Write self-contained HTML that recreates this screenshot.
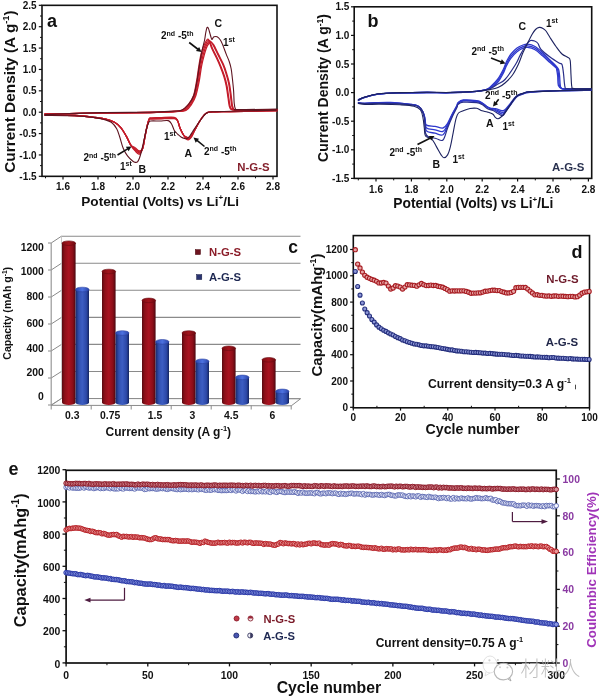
<!DOCTYPE html>
<html><head><meta charset="utf-8"><style>
html,body{margin:0;padding:0;background:#fff;}
svg{display:block;}
</style></head><body>
<svg width="600" height="698" viewBox="0 0 600 698" font-family='"Liberation Sans", Arial, sans-serif'>
<rect width="600" height="698" fill="#fff"/>
<rect x="42" y="5.33" width="235" height="171" fill="none" stroke="#111" stroke-width="1.6"/>
<line x1="38.8" y1="5.33" x2="42" y2="5.33" stroke="#111" stroke-width="1.2"/>
<text x="36.6" y="8.93" font-size="10" text-anchor="end" fill="#111" font-weight="bold">2.5</text>
<line x1="38.8" y1="26.7" x2="42" y2="26.7" stroke="#111" stroke-width="1.2"/>
<text x="36.6" y="30.3" font-size="10" text-anchor="end" fill="#111" font-weight="bold">2.0</text>
<line x1="38.8" y1="48.08" x2="42" y2="48.08" stroke="#111" stroke-width="1.2"/>
<text x="36.6" y="51.68" font-size="10" text-anchor="end" fill="#111" font-weight="bold">1.5</text>
<line x1="38.8" y1="69.45" x2="42" y2="69.45" stroke="#111" stroke-width="1.2"/>
<text x="36.6" y="73.05" font-size="10" text-anchor="end" fill="#111" font-weight="bold">1.0</text>
<line x1="38.8" y1="90.83" x2="42" y2="90.83" stroke="#111" stroke-width="1.2"/>
<text x="36.6" y="94.42" font-size="10" text-anchor="end" fill="#111" font-weight="bold">0.5</text>
<line x1="38.8" y1="112.2" x2="42" y2="112.2" stroke="#111" stroke-width="1.2"/>
<text x="36.6" y="115.8" font-size="10" text-anchor="end" fill="#111" font-weight="bold">0.0</text>
<line x1="38.8" y1="133.57" x2="42" y2="133.57" stroke="#111" stroke-width="1.2"/>
<text x="36.6" y="137.17" font-size="10" text-anchor="end" fill="#111" font-weight="bold">-0.5</text>
<line x1="38.8" y1="154.95" x2="42" y2="154.95" stroke="#111" stroke-width="1.2"/>
<text x="36.6" y="158.55" font-size="10" text-anchor="end" fill="#111" font-weight="bold">-1.0</text>
<line x1="38.8" y1="176.32" x2="42" y2="176.32" stroke="#111" stroke-width="1.2"/>
<text x="36.6" y="179.92" font-size="10" text-anchor="end" fill="#111" font-weight="bold">-1.5</text>
<line x1="40" y1="16.01" x2="42" y2="16.01" stroke="#111" stroke-width="1"/>
<line x1="40" y1="37.39" x2="42" y2="37.39" stroke="#111" stroke-width="1"/>
<line x1="40" y1="58.76" x2="42" y2="58.76" stroke="#111" stroke-width="1"/>
<line x1="40" y1="80.14" x2="42" y2="80.14" stroke="#111" stroke-width="1"/>
<line x1="40" y1="101.51" x2="42" y2="101.51" stroke="#111" stroke-width="1"/>
<line x1="40" y1="122.89" x2="42" y2="122.89" stroke="#111" stroke-width="1"/>
<line x1="40" y1="144.26" x2="42" y2="144.26" stroke="#111" stroke-width="1"/>
<line x1="40" y1="165.64" x2="42" y2="165.64" stroke="#111" stroke-width="1"/>
<line x1="63" y1="176.32" x2="63" y2="179.52" stroke="#111" stroke-width="1.2"/>
<text x="63" y="190.3" font-size="10" text-anchor="middle" fill="#111" font-weight="bold">1.6</text>
<line x1="98" y1="176.32" x2="98" y2="179.52" stroke="#111" stroke-width="1.2"/>
<text x="98" y="190.3" font-size="10" text-anchor="middle" fill="#111" font-weight="bold">1.8</text>
<line x1="133" y1="176.32" x2="133" y2="179.52" stroke="#111" stroke-width="1.2"/>
<text x="133" y="190.3" font-size="10" text-anchor="middle" fill="#111" font-weight="bold">2.0</text>
<line x1="168" y1="176.32" x2="168" y2="179.52" stroke="#111" stroke-width="1.2"/>
<text x="168" y="190.3" font-size="10" text-anchor="middle" fill="#111" font-weight="bold">2.2</text>
<line x1="203" y1="176.32" x2="203" y2="179.52" stroke="#111" stroke-width="1.2"/>
<text x="203" y="190.3" font-size="10" text-anchor="middle" fill="#111" font-weight="bold">2.4</text>
<line x1="238" y1="176.32" x2="238" y2="179.52" stroke="#111" stroke-width="1.2"/>
<text x="238" y="190.3" font-size="10" text-anchor="middle" fill="#111" font-weight="bold">2.6</text>
<line x1="273" y1="176.32" x2="273" y2="179.52" stroke="#111" stroke-width="1.2"/>
<text x="273" y="190.3" font-size="10" text-anchor="middle" fill="#111" font-weight="bold">2.8</text>
<line x1="45.5" y1="176.32" x2="45.5" y2="178.32" stroke="#111" stroke-width="1"/>
<line x1="80.5" y1="176.32" x2="80.5" y2="178.32" stroke="#111" stroke-width="1"/>
<line x1="115.5" y1="176.32" x2="115.5" y2="178.32" stroke="#111" stroke-width="1"/>
<line x1="150.5" y1="176.32" x2="150.5" y2="178.32" stroke="#111" stroke-width="1"/>
<line x1="185.5" y1="176.32" x2="185.5" y2="178.32" stroke="#111" stroke-width="1"/>
<line x1="220.5" y1="176.32" x2="220.5" y2="178.32" stroke="#111" stroke-width="1"/>
<line x1="255.5" y1="176.32" x2="255.5" y2="178.32" stroke="#111" stroke-width="1"/>
<text x="57" y="27" font-size="18" text-anchor="end" fill="#111" font-weight="bold">a</text>
<text x="15.2" y="91.6" font-size="15.4" text-anchor="middle" fill="#111" font-weight="bold" transform="rotate(-90 15.2 91.6)">Current Density (A g<tspan font-size="9.2" dy="-6.2">-1</tspan><tspan dy="6.2">)</tspan></text>
<text x="81.3" y="205.6" font-size="13.6" fill="#111" font-weight="bold">Potential (Volts) vs Li<tspan font-size="8" dy="-6">+</tspan><tspan dy="6">/Li</tspan></text>
<path d="M45,114 C50.83,113.9 67.5,113.58 80,113.4 C92.5,113.22 108.33,113.05 120,112.9 C131.67,112.75 142.5,112.65 150,112.5 C157.5,112.35 161.33,112.17 165,112 C168.67,111.83 169.25,111.77 172,111.5 C174.75,111.23 178.75,111.6 181.5,110.4 C184.25,109.2 186.5,106.73 188.5,104.3 C190.5,101.87 192.15,99.65 193.5,95.8 C194.85,91.95 195.72,86.08 196.6,81.2 C197.48,76.32 198.07,70.97 198.8,66.5 C199.53,62.03 200.17,57.85 201,54.4 C201.83,50.95 202.63,48.35 203.8,45.8 C204.97,43.25 206.68,38.68 208,39.1 C209.32,39.52 210.28,45.15 211.7,48.3 C213.12,51.45 215.08,54.97 216.5,58 C217.92,61.03 218.98,63.45 220.2,66.5 C221.42,69.55 222.78,73.05 223.8,76.3 C224.82,79.55 225.58,82.35 226.3,86 C227.02,89.65 227.6,94.87 228.1,98.2 C228.6,101.53 228.82,104.15 229.3,106 C229.78,107.85 230.05,108.62 231,109.3 C231.95,109.98 231.83,109.97 235,110.1 C238.17,110.23 243,110.18 250,110.1 C257,110.02 272.5,109.68 277,109.6" fill="none" stroke="#c41c2a" stroke-width="1.3" stroke-linejoin="round" stroke-linecap="round"/>
<path d="M277,110.6 C273.33,110.68 262.83,110.93 255,111.1 C247.17,111.27 236.67,111.48 230,111.6 C223.33,111.72 218.67,111.68 215,111.8 C211.33,111.92 209.75,111.83 208,112.3 C206.25,112.77 205.87,113.15 204.5,114.6 C203.13,116.05 201.35,118.57 199.8,121 C198.25,123.43 196.55,126.58 195.2,129.2 C193.85,131.82 192.77,134.95 191.7,136.7 C190.63,138.45 189.75,139.37 188.8,139.7 C187.85,140.03 186.88,139.48 186,138.7 C185.12,137.92 184.5,136.78 183.5,135 C182.5,133.22 180.97,130.33 180,128 C179.03,125.67 178.67,122.78 177.7,121 C176.73,119.22 177.15,117.87 174.2,117.3 C171.25,116.73 163.82,117.52 160,117.6 C156.18,117.68 153.1,117.55 151.3,117.8 C149.5,118.05 149.92,117.62 149.2,119.1 C148.48,120.58 147.73,123.63 147,126.7 C146.27,129.77 145.52,133.9 144.8,137.5 C144.08,141.1 143.6,145.52 142.7,148.3 C141.8,151.08 140.67,153.77 139.4,154.2 C138.13,154.63 136.53,152.42 135.1,150.9 C133.67,149.38 132.25,147.52 130.8,145.1 C129.35,142.68 128.03,139.28 126.4,136.4 C124.77,133.52 122.98,130.15 121,127.8 C119.02,125.45 117.03,123.75 114.5,122.3 C111.97,120.85 109.05,119.9 105.8,119.1 C102.55,118.3 100.13,118.1 95,117.5 C89.87,116.9 81.67,115.85 75,115.5 C68.33,115.15 60,115.48 55,115.4 C50,115.32 46.67,115.07 45,115" fill="none" stroke="#c41c2a" stroke-width="1.3" stroke-linejoin="round" stroke-linecap="round"/>
<path d="M45,114 C50.83,113.9 67.5,113.58 80,113.4 C92.5,113.22 108.33,113.05 120,112.9 C131.67,112.75 142.5,112.65 150,112.5 C157.5,112.35 161.11,112.17 165,112 C168.89,111.83 170.33,111.77 173.33,111.5 C176.33,111.23 180.31,111.6 183,110.4 C185.69,109.2 187.62,106.73 189.5,104.3 C191.38,101.87 192.94,99.65 194.27,95.8 C195.59,91.95 196.56,86.08 197.47,81.2 C198.37,76.32 198.92,70.97 199.7,66.5 C200.48,62.03 201.25,57.85 202.13,54.4 C203.02,50.95 203.89,48.17 205,45.8 C206.11,43.43 207.57,39.78 208.8,40.2 C210.03,40.62 211,45.33 212.4,48.3 C213.8,51.27 215.78,54.97 217.2,58 C218.62,61.03 219.68,63.45 220.9,66.5 C222.12,69.55 223.48,73.05 224.5,76.3 C225.52,79.55 226.28,82.35 227,86 C227.72,89.65 228.3,94.87 228.8,98.2 C229.3,101.53 229.52,104.15 230,106 C230.48,107.85 230.75,108.62 231.7,109.3 C232.65,109.98 232.65,109.97 235.7,110.1 C238.75,110.23 243.12,110.18 250,110.1 C256.88,110.02 272.5,109.68 277,109.6" fill="none" stroke="#c41c2a" stroke-width="1.3" stroke-linejoin="round" stroke-linecap="round"/>
<path d="M277,110.6 C273.33,110.68 262.83,110.93 255,111.1 C247.17,111.27 236.67,111.48 230,111.6 C223.33,111.72 218.67,111.68 215,111.8 C211.33,111.92 209.75,111.83 208,112.3 C206.25,112.77 205.87,113.15 204.5,114.6 C203.13,116.05 201.35,118.57 199.8,121 C198.25,123.43 196.55,126.7 195.2,129.2 C193.85,131.7 192.77,134.37 191.7,136 C190.63,137.63 189.75,138.67 188.8,139 C187.85,139.33 186.88,138.67 186,138 C185.12,137.33 184.5,136.67 183.5,135 C182.5,133.33 180.97,130.33 180,128 C179.03,125.67 178.67,122.7 177.7,121 C176.73,119.3 177.15,118.28 174.2,117.8 C171.25,117.32 163.82,118.02 160,118.1 C156.18,118.18 153.1,118.13 151.3,118.3 C149.5,118.47 149.92,117.7 149.2,119.1 C148.48,120.5 147.73,123.63 147,126.7 C146.27,129.77 145.52,133.9 144.8,137.5 C144.08,141.1 143.6,145.72 142.7,148.3 C141.8,150.88 140.67,152.77 139.4,153 C138.13,153.23 136.53,151.02 135.1,149.7 C133.67,148.38 132.25,147.32 130.8,145.1 C129.35,142.88 128.03,139.28 126.4,136.4 C124.77,133.52 122.98,130.15 121,127.8 C119.02,125.45 117.03,123.75 114.5,122.3 C111.97,120.85 109.05,119.9 105.8,119.1 C102.55,118.3 100.13,118.1 95,117.5 C89.87,116.9 81.67,115.85 75,115.5 C68.33,115.15 60,115.48 55,115.4 C50,115.32 46.67,115.07 45,115" fill="none" stroke="#c41c2a" stroke-width="1.3" stroke-linejoin="round" stroke-linecap="round"/>
<path d="M45,114 C50.83,113.9 67.5,113.58 80,113.4 C92.5,113.22 108.33,113.05 120,112.9 C131.67,112.75 142.5,112.65 150,112.5 C157.5,112.35 160.89,112.17 165,112 C169.11,111.83 171.42,111.77 174.67,111.5 C177.92,111.23 181.86,111.6 184.5,110.4 C187.14,109.2 188.74,106.73 190.5,104.3 C192.26,101.87 193.73,99.65 195.03,95.8 C196.34,91.95 197.41,86.08 198.33,81.2 C199.26,76.32 199.78,70.97 200.6,66.5 C201.42,62.03 202.33,57.85 203.27,54.4 C204.2,50.95 205.11,48.03 206.2,45.8 C207.29,43.57 208.68,41.2 209.8,41 C210.92,40.8 211.57,42.37 212.9,44.6 C214.23,46.83 216.18,51.15 217.8,54.4 C219.42,57.65 221.28,61.07 222.6,64.1 C223.92,67.13 224.68,69.35 225.7,72.6 C226.72,75.85 227.9,79.73 228.7,83.6 C229.5,87.47 229.98,92.07 230.5,95.8 C231.02,99.53 231.3,103.72 231.8,106 C232.3,108.28 232.63,108.82 233.5,109.5 C234.37,110.18 234.25,110 237,110.1 C239.75,110.2 243.33,110.18 250,110.1 C256.67,110.02 272.5,109.68 277,109.6" fill="none" stroke="#c41c2a" stroke-width="1.3" stroke-linejoin="round" stroke-linecap="round"/>
<path d="M277,110.6 C273.33,110.68 262.83,110.93 255,111.1 C247.17,111.27 236.67,111.48 230,111.6 C223.33,111.72 218.67,111.68 215,111.8 C211.33,111.92 209.75,111.83 208,112.3 C206.25,112.77 205.87,113.15 204.5,114.6 C203.13,116.05 201.35,118.57 199.8,121 C198.25,123.43 196.55,126.82 195.2,129.2 C193.85,131.58 192.77,133.78 191.7,135.3 C190.63,136.82 189.75,137.97 188.8,138.3 C187.85,138.63 186.88,137.85 186,137.3 C185.12,136.75 184.5,136.55 183.5,135 C182.5,133.45 180.97,130.33 180,128 C179.03,125.67 178.67,122.63 177.7,121 C176.73,119.37 177.15,118.62 174.2,118.2 C171.25,117.78 163.82,118.42 160,118.5 C156.18,118.58 153.1,118.6 151.3,118.7 C149.5,118.8 149.92,117.77 149.2,119.1 C148.48,120.43 147.73,123.63 147,126.7 C146.27,129.77 145.52,133.9 144.8,137.5 C144.08,141.1 143.6,145.88 142.7,148.3 C141.8,150.72 140.67,151.93 139.4,152 C138.13,152.07 136.53,149.85 135.1,148.7 C133.67,147.55 132.25,147.15 130.8,145.1 C129.35,143.05 128.03,139.28 126.4,136.4 C124.77,133.52 122.98,130.15 121,127.8 C119.02,125.45 117.03,123.75 114.5,122.3 C111.97,120.85 109.05,119.9 105.8,119.1 C102.55,118.3 100.13,118.1 95,117.5 C89.87,116.9 81.67,115.85 75,115.5 C68.33,115.15 60,115.48 55,115.4 C50,115.32 46.67,115.07 45,115" fill="none" stroke="#c41c2a" stroke-width="1.3" stroke-linejoin="round" stroke-linecap="round"/>
<path d="M45,114 C50.83,113.9 67.5,113.58 80,113.4 C92.5,113.22 108.33,113.05 120,112.9 C131.67,112.75 142.5,112.65 150,112.5 C157.5,112.35 160.67,112.17 165,112 C169.33,111.83 172.5,111.77 176,111.5 C179.5,111.23 183.42,111.6 186,110.4 C188.58,109.2 189.87,106.73 191.5,104.3 C193.13,101.87 194.52,99.65 195.8,95.8 C197.08,91.95 198.25,86.08 199.2,81.2 C200.15,76.32 200.63,70.97 201.5,66.5 C202.37,62.03 203.42,57.85 204.4,54.4 C205.38,50.95 206.38,47.8 207.4,45.8 C208.42,43.8 209.47,42.6 210.5,42.4 C211.53,42.2 212.27,42.6 213.6,44.6 C214.93,46.6 216.88,51.15 218.5,54.4 C220.12,57.65 221.98,61.07 223.3,64.1 C224.62,67.13 225.38,69.35 226.4,72.6 C227.42,75.85 228.6,79.73 229.4,83.6 C230.2,87.47 230.68,92.07 231.2,95.8 C231.72,99.53 232,103.72 232.5,106 C233,108.28 233.33,108.82 234.2,109.5 C235.07,110.18 235.07,110 237.7,110.1 C240.33,110.2 243.45,110.18 250,110.1 C256.55,110.02 272.5,109.68 277,109.6" fill="none" stroke="#c41c2a" stroke-width="1.3" stroke-linejoin="round" stroke-linecap="round"/>
<path d="M277,110.6 C273.33,110.68 262.83,110.93 255,111.1 C247.17,111.27 236.67,111.48 230,111.6 C223.33,111.72 218.67,111.68 215,111.8 C211.33,111.92 209.75,111.83 208,112.3 C206.25,112.77 205.87,113.15 204.5,114.6 C203.13,116.05 201.35,118.57 199.8,121 C198.25,123.43 196.55,126.93 195.2,129.2 C193.85,131.47 192.77,133.2 191.7,134.6 C190.63,136 189.75,137.27 188.8,137.6 C187.85,137.93 186.88,137.03 186,136.6 C185.12,136.17 184.5,136.43 183.5,135 C182.5,133.57 180.97,130.33 180,128 C179.03,125.67 178.67,122.57 177.7,121 C176.73,119.43 177.15,118.95 174.2,118.6 C171.25,118.25 163.82,118.82 160,118.9 C156.18,118.98 153.1,119.07 151.3,119.1 C149.5,119.13 149.92,117.83 149.2,119.1 C148.48,120.37 147.73,123.63 147,126.7 C146.27,129.77 145.52,133.9 144.8,137.5 C144.08,141.1 143.6,146.05 142.7,148.3 C141.8,150.55 140.67,151.1 139.4,151 C138.13,150.9 136.53,148.68 135.1,147.7 C133.67,146.72 132.25,146.98 130.8,145.1 C129.35,143.22 128.03,139.28 126.4,136.4 C124.77,133.52 122.98,130.15 121,127.8 C119.02,125.45 117.03,123.75 114.5,122.3 C111.97,120.85 109.05,119.9 105.8,119.1 C102.55,118.3 100.13,118.1 95,117.5 C89.87,116.9 81.67,115.85 75,115.5 C68.33,115.15 60,115.48 55,115.4 C50,115.32 46.67,115.07 45,115" fill="none" stroke="#c41c2a" stroke-width="1.3" stroke-linejoin="round" stroke-linecap="round"/>
<path d="M45,114.6 C54.17,114.27 82.5,113 100,112.6 C117.5,112.2 138,112.43 150,112.2 C162,111.97 166.75,111.53 172,111.2 C177.25,110.87 178.7,111.4 181.5,110.2 C184.3,109 186.75,106.45 188.8,104 C190.85,101.55 192.43,99.33 193.8,95.5 C195.17,91.67 196.1,85.83 197,81 C197.9,76.17 198.48,70.93 199.2,66.5 C199.92,62.07 200.67,57.73 201.3,54.4 C201.93,51.07 202.45,48.9 203,46.5 C203.55,44.1 204.13,42.33 204.6,40 C205.07,37.67 205.4,34.57 205.8,32.5 C206.2,30.43 206.6,28.35 207,27.6 C207.4,26.85 207.8,27.35 208.2,28 C208.6,28.65 208.97,30.08 209.4,31.5 C209.83,32.92 210.38,35.17 210.8,36.5 C211.22,37.83 211.53,39.28 211.9,39.5 C212.27,39.72 212.63,38.27 213,37.8 C213.37,37.33 213.42,36.88 214.1,36.7 C214.78,36.52 216.08,36.2 217.1,36.7 C218.12,37.2 219.28,38.38 220.2,39.7 C221.12,41.02 221.58,42.15 222.6,44.6 C223.62,47.05 225.18,51.55 226.3,54.4 C227.42,57.25 228.48,59.27 229.3,61.7 C230.12,64.13 230.68,66.17 231.2,69 C231.72,71.83 232,75.05 232.4,78.7 C232.8,82.35 233.3,86.83 233.6,90.9 C233.9,94.97 233.9,100.12 234.2,103.1 C234.5,106.08 234.77,107.72 235.4,108.8 C236.03,109.88 231.07,109.55 238,109.6 C244.93,109.65 270.5,109.18 277,109.1" fill="none" stroke="#5e1420" stroke-width="1.1" stroke-linejoin="round" stroke-linecap="round"/>
<path d="M277,110.2 C270.83,110.33 250.83,110.73 240,111 C229.17,111.27 217.67,111.38 212,111.8 C206.33,112.22 207.83,112.22 206,113.5 C204.17,114.78 202.5,117.58 201,119.5 C199.5,121.42 198.33,123.08 197,125 C195.67,126.92 194.2,129.17 193,131 C191.8,132.83 190.8,134.75 189.8,136 C188.8,137.25 187.88,138.08 187,138.5 C186.12,138.92 185.5,138.75 184.5,138.5 C183.5,138.25 182.08,137.67 181,137 C179.92,136.33 178.75,135.17 178,134.5 C177.25,133.83 177.13,133.7 176.5,133 C175.87,132.3 174.98,131.72 174.2,130.3 C173.42,128.88 172.78,126.12 171.8,124.5 C170.82,122.88 170.27,121.18 168.3,120.6 C166.33,120.02 162.92,120.93 160,121 C157.08,121.07 152.72,120.67 150.8,121 C148.88,121.33 149.22,121.67 148.5,123 C147.78,124.33 147.25,126.17 146.5,129 C145.75,131.83 144.83,136.33 144,140 C143.17,143.67 142.25,148 141.5,151 C140.75,154 140.17,156.2 139.5,158 C138.83,159.8 138.17,161.07 137.5,161.8 C136.83,162.53 136.27,162.48 135.5,162.4 C134.73,162.32 134.23,162.38 132.9,161.3 C131.57,160.22 129.12,158.07 127.5,155.9 C125.88,153.73 124.47,151.37 123.2,148.3 C121.93,145.23 120.98,140.75 119.9,137.5 C118.82,134.25 118.13,131.33 116.7,128.8 C115.27,126.27 113.42,123.85 111.3,122.3 C109.18,120.75 106.72,120.28 104,119.5 C101.28,118.72 99.83,118.22 95,117.6 C90.17,116.98 83.33,116.17 75,115.8 C66.67,115.43 50,115.47 45,115.4" fill="none" stroke="#5e1420" stroke-width="1.1" stroke-linejoin="round" stroke-linecap="round"/>
<text x="214.5" y="26.5" font-size="10.5" text-anchor="start" fill="#111" font-weight="bold">C</text>
<text x="161" y="39.3" font-size="10" fill="#111" font-weight="bold">2<tspan font-size="7" dy="-3.8">nd</tspan><tspan dy="3.8"> -5</tspan><tspan font-size="7" dy="-3.8">th</tspan></text>
<line x1="189.2" y1="42.5" x2="197.94" y2="49.25" stroke="#111" stroke-width="1.6"/>
<polygon points="201.5,52 195.95,51 199.13,46.89" fill="#111"/>
<text x="223" y="46" font-size="10" fill="#111" font-weight="bold">1<tspan font-size="7" dy="-3.8">st</tspan></text>
<text x="83.5" y="161.3" font-size="10" fill="#111" font-weight="bold">2<tspan font-size="7" dy="-3.8">nd</tspan><tspan dy="3.8"> -5</tspan><tspan font-size="7" dy="-3.8">th</tspan></text>
<line x1="117.5" y1="155" x2="127.65" y2="148.84" stroke="#111" stroke-width="1.6"/>
<polygon points="131.5,146.5 128.58,151.32 125.88,146.87" fill="#111"/>
<text x="120" y="170.2" font-size="10" fill="#111" font-weight="bold">1<tspan font-size="7" dy="-3.8">st</tspan></text>
<text x="138.5" y="172.5" font-size="10.5" text-anchor="start" fill="#111" font-weight="bold">B</text>
<text x="164" y="139.6" font-size="10" fill="#111" font-weight="bold">1<tspan font-size="7" dy="-3.8">st</tspan></text>
<text x="184.5" y="157" font-size="10.5" text-anchor="start" fill="#111" font-weight="bold">A</text>
<text x="204" y="154.8" font-size="10" fill="#111" font-weight="bold">2<tspan font-size="7" dy="-3.8">nd</tspan><tspan dy="3.8"> -5</tspan><tspan font-size="7" dy="-3.8">th</tspan></text>
<line x1="204.5" y1="146.5" x2="196.98" y2="140.35" stroke="#111" stroke-width="1.6"/>
<polygon points="193.5,137.5 199.02,138.65 195.72,142.68" fill="#111"/>
<text x="269.6" y="171.3" font-size="11.4" text-anchor="end" fill="#84202c" font-weight="bold">N-G-S</text>
<rect x="354.2" y="6.8" width="237.5" height="171.6" fill="none" stroke="#111" stroke-width="1.6"/>
<line x1="351" y1="6.8" x2="354.2" y2="6.8" stroke="#111" stroke-width="1.2"/>
<text x="349.3" y="10.4" font-size="10" text-anchor="end" fill="#111" font-weight="bold">1.5</text>
<line x1="351" y1="35.4" x2="354.2" y2="35.4" stroke="#111" stroke-width="1.2"/>
<text x="349.3" y="39" font-size="10" text-anchor="end" fill="#111" font-weight="bold">1.0</text>
<line x1="351" y1="64" x2="354.2" y2="64" stroke="#111" stroke-width="1.2"/>
<text x="349.3" y="67.6" font-size="10" text-anchor="end" fill="#111" font-weight="bold">0.5</text>
<line x1="351" y1="92.6" x2="354.2" y2="92.6" stroke="#111" stroke-width="1.2"/>
<text x="349.3" y="96.2" font-size="10" text-anchor="end" fill="#111" font-weight="bold">0.0</text>
<line x1="351" y1="121.2" x2="354.2" y2="121.2" stroke="#111" stroke-width="1.2"/>
<text x="349.3" y="124.8" font-size="10" text-anchor="end" fill="#111" font-weight="bold">-0.5</text>
<line x1="351" y1="149.8" x2="354.2" y2="149.8" stroke="#111" stroke-width="1.2"/>
<text x="349.3" y="153.4" font-size="10" text-anchor="end" fill="#111" font-weight="bold">-1.0</text>
<line x1="351" y1="178.4" x2="354.2" y2="178.4" stroke="#111" stroke-width="1.2"/>
<text x="349.3" y="182" font-size="10" text-anchor="end" fill="#111" font-weight="bold">-1.5</text>
<line x1="352.2" y1="21.1" x2="354.2" y2="21.1" stroke="#111" stroke-width="1"/>
<line x1="352.2" y1="49.7" x2="354.2" y2="49.7" stroke="#111" stroke-width="1"/>
<line x1="352.2" y1="78.3" x2="354.2" y2="78.3" stroke="#111" stroke-width="1"/>
<line x1="352.2" y1="106.9" x2="354.2" y2="106.9" stroke="#111" stroke-width="1"/>
<line x1="352.2" y1="135.5" x2="354.2" y2="135.5" stroke="#111" stroke-width="1"/>
<line x1="352.2" y1="164.1" x2="354.2" y2="164.1" stroke="#111" stroke-width="1"/>
<line x1="376" y1="178.4" x2="376" y2="181.6" stroke="#111" stroke-width="1.2"/>
<text x="376" y="193" font-size="10" text-anchor="middle" fill="#111" font-weight="bold">1.6</text>
<line x1="411.4" y1="178.4" x2="411.4" y2="181.6" stroke="#111" stroke-width="1.2"/>
<text x="411.4" y="193" font-size="10" text-anchor="middle" fill="#111" font-weight="bold">1.8</text>
<line x1="446.8" y1="178.4" x2="446.8" y2="181.6" stroke="#111" stroke-width="1.2"/>
<text x="446.8" y="193" font-size="10" text-anchor="middle" fill="#111" font-weight="bold">2.0</text>
<line x1="482.2" y1="178.4" x2="482.2" y2="181.6" stroke="#111" stroke-width="1.2"/>
<text x="482.2" y="193" font-size="10" text-anchor="middle" fill="#111" font-weight="bold">2.2</text>
<line x1="517.6" y1="178.4" x2="517.6" y2="181.6" stroke="#111" stroke-width="1.2"/>
<text x="517.6" y="193" font-size="10" text-anchor="middle" fill="#111" font-weight="bold">2.4</text>
<line x1="553" y1="178.4" x2="553" y2="181.6" stroke="#111" stroke-width="1.2"/>
<text x="553" y="193" font-size="10" text-anchor="middle" fill="#111" font-weight="bold">2.6</text>
<line x1="588.4" y1="178.4" x2="588.4" y2="181.6" stroke="#111" stroke-width="1.2"/>
<text x="588.4" y="193" font-size="10" text-anchor="middle" fill="#111" font-weight="bold">2.8</text>
<line x1="358.3" y1="178.4" x2="358.3" y2="180.4" stroke="#111" stroke-width="1"/>
<line x1="393.7" y1="178.4" x2="393.7" y2="180.4" stroke="#111" stroke-width="1"/>
<line x1="429.1" y1="178.4" x2="429.1" y2="180.4" stroke="#111" stroke-width="1"/>
<line x1="464.5" y1="178.4" x2="464.5" y2="180.4" stroke="#111" stroke-width="1"/>
<line x1="499.9" y1="178.4" x2="499.9" y2="180.4" stroke="#111" stroke-width="1"/>
<line x1="535.3" y1="178.4" x2="535.3" y2="180.4" stroke="#111" stroke-width="1"/>
<line x1="570.7" y1="178.4" x2="570.7" y2="180.4" stroke="#111" stroke-width="1"/>
<text x="367.5" y="27" font-size="18" text-anchor="start" fill="#111" font-weight="bold">b</text>
<text x="328" y="88" font-size="14" text-anchor="middle" fill="#111" font-weight="bold" transform="rotate(-90 328 88)">Current Density (A g<tspan font-size="8.5" dy="-5.5">-1</tspan><tspan dy="5.5">)</tspan></text>
<text x="393.3" y="208" font-size="13.8" fill="#111" font-weight="bold">Potential (Volts) vs Li<tspan font-size="8" dy="-6">+</tspan><tspan dy="6">/Li</tspan></text>
<path d="M358.4,100.5 C359.33,100.02 360.73,98.65 364,97.6 C367.27,96.55 372,94.98 378,94.2 C384,93.42 391.83,93.18 400,92.9 C408.17,92.62 418.67,92.53 427,92.5 C435.33,92.47 441.72,92.9 450,92.7 C458.28,92.5 470.7,91.82 476.7,91.3 C482.7,90.78 483.78,90.28 486,89.6 C488.22,88.92 488.08,88.88 490,87.2 C491.92,85.52 495.25,82.53 497.5,79.5 C499.75,76.47 502,72 503.5,69 C505,66 505.25,64 506.5,61.5 C507.75,59 509.25,56.25 511,54 C512.75,51.75 515,49.5 517,48 C519,46.5 521.25,45.63 523,45 C524.75,44.37 525.5,43.95 527.5,44.2 C529.5,44.45 532.5,45.12 535,46.5 C537.5,47.88 540,50.25 542.5,52.5 C545,54.75 547.75,57.75 550,60 C552.25,62.25 554.57,64.42 556,66 C557.43,67.58 558,67.83 558.6,69.5 C559.2,71.17 559.32,73.33 559.6,76 C559.88,78.67 559.9,83.4 560.3,85.5 C560.7,87.6 560.38,87.97 562,88.6 C563.62,89.23 565.17,89.2 570,89.3 C574.83,89.4 587.5,89.22 591,89.2" fill="none" stroke="#2e38cc" stroke-width="1.3" stroke-linejoin="round" stroke-linecap="round"/>
<path d="M591,90.2 C585.83,90.27 570.17,90.37 560,90.6 C549.83,90.83 536.12,91.15 530,91.6 C523.88,92.05 525.3,92.73 523.3,93.3 C521.3,93.87 519.55,94.1 518,95 C516.45,95.9 515.33,97.2 514,98.7 C512.67,100.2 511.33,102.33 510,104 C508.67,105.67 507.12,107.58 506,108.7 C504.88,109.82 504.18,110.43 503.3,110.7 C502.42,110.97 502.03,110.63 500.7,110.3 C499.37,109.97 497.08,109.08 495.3,108.7 C493.52,108.32 491.55,108.45 490,108 C488.45,107.55 487.33,106.88 486,106 C484.67,105.12 483.55,103.58 482,102.7 C480.45,101.82 479.82,101.15 476.7,100.7 C473.58,100.25 466.42,99.67 463.3,100 C460.18,100.33 459.07,101.77 458,102.7 C456.93,103.63 457.87,103.72 456.9,105.6 C455.93,107.48 453.75,111.05 452.2,114 C450.65,116.95 449.13,120.97 447.6,123.3 C446.07,125.63 445.1,127.48 443,128 C440.9,128.52 437.75,126.88 435,126.4 C432.25,125.92 428.13,126.17 426.5,125.1 C424.87,124.03 425.57,121.52 425.2,120 C424.83,118.48 424.77,117.47 424.3,116 C423.83,114.53 423.45,112.87 422.4,111.2 C421.35,109.53 420.07,107.15 418,106 C415.93,104.85 414.58,104.9 410,104.3 C405.42,103.7 396.33,102.67 390.5,102.4 C384.67,102.13 379.75,102.53 375,102.7 C370.25,102.87 364.77,103.38 362,103.4 C359.23,103.42 359,102.9 358.4,102.8" fill="none" stroke="#2e38cc" stroke-width="1.3" stroke-linejoin="round" stroke-linecap="round"/>
<path d="M358.4,100.02 C359.33,99.62 360.73,98.57 364,97.6 C367.27,96.63 372,94.98 378,94.2 C384,93.42 391.83,93.18 400,92.9 C408.17,92.62 418.67,92.53 427,92.5 C435.33,92.47 441.72,92.9 450,92.7 C458.28,92.5 470.7,91.82 476.7,91.3 C482.7,90.78 483.78,90.18 486,89.6 C488.22,89.02 488.08,89.26 490,87.84 C491.92,86.42 495.25,83.92 497.5,81.1 C499.75,78.28 502,73.84 503.5,70.92 C505,68 505.25,66.05 506.5,63.58 C507.75,61.11 509.25,58.36 511,56.08 C512.75,53.8 515,51.5 517,49.92 C519,48.34 521.25,47.29 523,46.6 C524.75,45.91 525.5,45.55 527.5,45.8 C529.5,46.05 532.5,46.72 535,48.1 C537.5,49.48 540,51.9 542.5,54.1 C545,56.3 547.75,59.14 550,61.28 C552.25,63.42 554.73,65.59 556,66.96 C557.27,68.33 557.2,67.99 557.64,69.5 C558.08,71.01 558.36,73.33 558.64,76 C558.92,78.67 558.78,83.4 559.34,85.5 C559.9,87.6 560.22,87.97 562,88.6 C563.78,89.23 565.17,89.2 570,89.3 C574.83,89.4 587.5,89.22 591,89.2" fill="none" stroke="#2e38cc" stroke-width="1.3" stroke-linejoin="round" stroke-linecap="round"/>
<path d="M591,90.2 C585.83,90.27 570.17,90.31 560,90.6 C549.83,90.89 536.12,91.42 530,91.92 C523.88,92.42 525.3,93.03 523.3,93.62 C521.3,94.21 519.55,94.53 518,95.48 C516.45,96.43 515.33,97.79 514,99.34 C512.67,100.89 511.33,103.04 510,104.8 C508.67,106.56 507.12,108.65 506,109.9 C504.88,111.15 504.18,111.97 503.3,112.3 C502.42,112.63 502.03,112.37 500.7,111.9 C499.37,111.43 497.08,110.08 495.3,109.5 C493.52,108.92 491.55,108.98 490,108.4 C488.45,107.82 487.33,106.87 486,106 C484.67,105.13 483.55,103.98 482,103.18 C480.45,102.38 479.82,101.63 476.7,101.18 C473.58,100.73 466.42,100.15 463.3,100.48 C460.18,100.81 459.07,102.25 458,103.18 C456.93,104.11 457.87,104.14 456.9,106.08 C455.93,108.02 453.75,111.72 452.2,114.8 C450.65,117.88 449.13,121.81 447.6,124.58 C446.07,127.35 445.1,130.53 443,131.4 C440.9,132.27 437.75,130.37 435,129.8 C432.25,129.23 428.13,129.37 426.5,128 C424.87,126.63 425.57,123.6 425.2,121.6 C424.83,119.6 424.77,117.73 424.3,116 C423.83,114.27 423.45,112.87 422.4,111.2 C421.35,109.53 420.07,107.15 418,106 C415.93,104.85 414.58,104.85 410,104.3 C405.42,103.75 396.33,102.93 390.5,102.72 C384.67,102.51 379.75,102.91 375,103.02 C370.25,103.13 364.77,103.44 362,103.4 C359.23,103.36 359,102.9 358.4,102.8" fill="none" stroke="#2e38cc" stroke-width="1.3" stroke-linejoin="round" stroke-linecap="round"/>
<path d="M358.4,99.54 C359.33,99.22 360.73,98.49 364,97.6 C367.27,96.71 372,94.98 378,94.2 C384,93.42 391.83,93.18 400,92.9 C408.17,92.62 418.67,92.53 427,92.5 C435.33,92.47 441.72,92.9 450,92.7 C458.28,92.5 470.7,91.82 476.7,91.3 C482.7,90.78 483.78,90.07 486,89.6 C488.22,89.13 488.08,89.63 490,88.48 C491.92,87.33 495.25,85.31 497.5,82.7 C499.75,80.09 502,75.68 503.5,72.84 C505,70 505.25,68.11 506.5,65.66 C507.75,63.21 509.25,60.46 511,58.16 C512.75,55.86 515,53.5 517,51.84 C519,50.18 521.25,48.94 523,48.2 C524.75,47.46 525.5,47.15 527.5,47.4 C529.5,47.65 532.5,48.32 535,49.7 C537.5,51.08 540,53.56 542.5,55.7 C545,57.84 547.75,60.52 550,62.56 C552.25,64.6 554.89,66.76 556,67.92 C557.11,69.08 556.4,68.15 556.68,69.5 C556.96,70.85 557.4,73.33 557.68,76 C557.96,78.67 557.66,83.4 558.38,85.5 C559.1,87.6 560.06,87.97 562,88.6 C563.94,89.23 565.17,89.2 570,89.3 C574.83,89.4 587.5,89.22 591,89.2" fill="none" stroke="#2e38cc" stroke-width="1.3" stroke-linejoin="round" stroke-linecap="round"/>
<path d="M591,90.2 C585.83,90.27 570.17,90.26 560,90.6 C549.83,90.94 536.12,91.68 530,92.24 C523.88,92.8 525.3,93.32 523.3,93.94 C521.3,94.56 519.55,94.95 518,95.96 C516.45,96.97 515.33,98.37 514,99.98 C512.67,101.59 511.33,103.75 510,105.6 C508.67,107.45 507.12,109.72 506,111.1 C504.88,112.48 504.18,113.5 503.3,113.9 C502.42,114.3 502.03,114.1 500.7,113.5 C499.37,112.9 497.08,111.08 495.3,110.3 C493.52,109.52 491.55,109.52 490,108.8 C488.45,108.08 487.33,106.86 486,106 C484.67,105.14 483.55,104.38 482,103.66 C480.45,102.94 479.82,102.11 476.7,101.66 C473.58,101.21 466.42,100.63 463.3,100.96 C460.18,101.29 459.07,102.73 458,103.66 C456.93,104.59 457.87,104.57 456.9,106.56 C455.93,108.55 453.75,112.38 452.2,115.6 C450.65,118.82 449.13,122.66 447.6,125.86 C446.07,129.06 445.1,133.58 443,134.8 C440.9,136.02 437.75,133.85 435,133.2 C432.25,132.55 428.13,132.57 426.5,130.9 C424.87,129.23 425.57,125.68 425.2,123.2 C424.83,120.72 424.77,118 424.3,116 C423.83,114 423.45,112.87 422.4,111.2 C421.35,109.53 420.07,107.15 418,106 C415.93,104.85 414.58,104.79 410,104.3 C405.42,103.81 396.33,103.2 390.5,103.04 C384.67,102.88 379.75,103.28 375,103.34 C370.25,103.4 364.77,103.49 362,103.4 C359.23,103.31 359,102.9 358.4,102.8" fill="none" stroke="#2e38cc" stroke-width="1.3" stroke-linejoin="round" stroke-linecap="round"/>
<path d="M358.4,100.2 C359.33,99.73 360.73,98.43 364,97.4 C367.27,96.37 372,94.77 378,94 C384,93.23 391.83,93.07 400,92.8 C408.17,92.53 418.67,92.43 427,92.4 C435.33,92.37 441.72,92.77 450,92.6 C458.28,92.43 470.03,92.03 476.7,91.4 C483.37,90.77 486.62,89.95 490,88.8 C493.38,87.65 494.5,86.05 497,84.5 C499.5,82.95 501.92,82.83 505,79.5 C508.08,76.17 513,68.5 515.5,64.5 C518,60.5 518.25,58.75 520,55.5 C521.75,52.25 524.25,47.5 526,45 C527.75,42.5 529,41.13 530.5,40.5 C532,39.87 533.75,40.7 535,41.2 C536.25,41.7 537,42.12 538,43.5 C539,44.88 539,47.25 541,49.5 C543,51.75 547,54.75 550,57 C553,59.25 557,61.75 559,63 C561,64.25 561.25,62.75 562,64.5 C562.75,66.25 563,69.75 563.5,73.5 C564,77.25 564.25,84.47 565,87 C565.75,89.53 563.67,88.35 568,88.7 C572.33,89.05 587.17,89.03 591,89.1" fill="none" stroke="#2a2f8a" stroke-width="1.2" stroke-linejoin="round" stroke-linecap="round"/>
<path d="M591,90.1 C585.83,90.2 570.17,90.43 560,90.7 C549.83,90.97 536.12,91.23 530,91.7 C523.88,92.17 525.3,92.85 523.3,93.5 C521.3,94.15 519.55,94.58 518,95.6 C516.45,96.62 515.33,97.98 514,99.6 C512.67,101.22 511.33,103.48 510,105.3 C508.67,107.12 507.12,108.83 506,110.5 C504.88,112.17 504.18,114.53 503.3,115.3 C502.42,116.07 501.75,115.48 500.7,115.1 C499.65,114.72 498.28,113.77 497,113 C495.72,112.23 494.5,111.17 493,110.5 C491.5,109.83 489.83,110 488,109 C486.17,108 483.88,105.55 482,104.5 C480.12,103.45 479.82,103.08 476.7,102.7 C473.58,102.32 466.42,101.9 463.3,102.2 C460.18,102.5 459.07,103.62 458,104.5 C456.93,105.38 457.87,105.42 456.9,107.5 C455.93,109.58 453.75,113.58 452.2,117 C450.65,120.42 449.13,124.17 447.6,128 C446.07,131.83 444.93,138.25 443,140 C441.07,141.75 438.5,139.08 436,138.5 C433.5,137.92 429.75,137.42 428,136.5 C426.25,135.58 426.03,135.42 425.5,133 C424.97,130.58 425.08,125 424.8,122 C424.52,119 424.43,117.25 423.8,115 C423.17,112.75 422.3,110.08 421,108.5 C419.7,106.92 418.67,106.22 416,105.5 C413.33,104.78 410.17,104.57 405,104.2 C399.83,103.83 391.67,103.4 385,103.3 C378.33,103.2 369.43,103.65 365,103.6 C360.57,103.55 359.5,103.1 358.4,103" fill="none" stroke="#2a2f8a" stroke-width="1.2" stroke-linejoin="round" stroke-linecap="round"/>
<path d="M358.4,100 C359.33,99.53 360.73,98.23 364,97.2 C367.27,96.17 372,94.57 378,93.8 C384,93.03 391.83,92.87 400,92.6 C408.17,92.33 418.67,92.23 427,92.2 C435.33,92.17 441.72,92.57 450,92.4 C458.28,92.23 470.03,91.67 476.7,91.2 C483.37,90.73 486.45,90.2 490,89.6 C493.55,89 495.5,88.7 498,87.6 C500.5,86.5 502.58,85.1 505,83 C507.42,80.9 510.25,78.17 512.5,75 C514.75,71.83 516.75,67.75 518.5,64 C520.25,60.25 521.5,55.92 523,52.5 C524.5,49.08 526,46.5 527.5,43.5 C529,40.5 530.67,36.83 532,34.5 C533.33,32.17 534.28,30.68 535.5,29.5 C536.72,28.32 538.05,27.58 539.3,27.4 C540.55,27.22 541.88,27.8 543,28.4 C544.12,29 544.83,29.48 546,31 C547.17,32.52 548.33,34.92 550,37.5 C551.67,40.08 554,43.75 556,46.5 C558,49.25 560,52.17 562,54 C564,55.83 566.63,56.42 568,57.5 C569.37,58.58 569.7,57.58 570.2,60.5 C570.7,63.42 570.73,70.67 571,75 C571.27,79.33 571.3,84.25 571.8,86.5 C572.3,88.75 570.8,88.1 574,88.5 C577.2,88.9 588.17,88.83 591,88.9" fill="none" stroke="#1c2260" stroke-width="1.1" stroke-linejoin="round" stroke-linecap="round"/>
<path d="M591,89.8 C585.83,89.97 570.17,90.47 560,90.8 C549.83,91.13 536.55,91.27 530,91.8 C523.45,92.33 523.15,93.08 520.7,94 C518.25,94.92 517.08,95.42 515.3,97.3 C513.52,99.18 511.77,102.63 510,105.3 C508.23,107.97 506.25,111.3 504.7,113.3 C503.15,115.3 501.82,116.4 500.7,117.3 C499.58,118.2 498.9,118.7 498,118.7 C497.1,118.7 496.18,118.08 495.3,117.3 C494.42,116.52 494.03,114.88 492.7,114 C491.37,113.12 489.08,112.55 487.3,112 C485.52,111.45 483.77,111.32 482,110.7 C480.23,110.08 478.7,108.67 476.7,108.3 C474.7,107.93 472.23,108.1 470,108.5 C467.77,108.9 465.22,109.95 463.3,110.7 C461.38,111.45 459.72,111.68 458.5,113 C457.28,114.32 456.88,115.33 456,118.6 C455.12,121.87 454.13,127.93 453.2,132.6 C452.27,137.27 451.33,142.88 450.4,146.6 C449.47,150.32 448.68,153.05 447.6,154.9 C446.52,156.75 444.98,157.7 443.9,157.7 C442.82,157.7 442.35,156.75 441.1,154.9 C439.85,153.05 437.95,149.23 436.4,146.6 C434.85,143.97 433.62,140.87 431.8,139.1 C429.98,137.33 426.75,137.85 425.5,136 C424.25,134.15 424.72,131 424.3,128 C423.88,125 423.63,121 423,118 C422.37,115 422,111.97 420.5,110 C419,108.03 417.42,107.07 414,106.2 C410.58,105.33 405.67,105.12 400,104.8 C394.33,104.48 385.83,104.37 380,104.3 C374.17,104.23 368.6,104.55 365,104.4 C361.4,104.25 359.5,103.57 358.4,103.4" fill="none" stroke="#1c2260" stroke-width="1.1" stroke-linejoin="round" stroke-linecap="round"/>
<text x="518.5" y="30" font-size="10.5" text-anchor="start" fill="#111" font-weight="bold">C</text>
<text x="546" y="27.2" font-size="10" fill="#111" font-weight="bold">1<tspan font-size="7" dy="-3.8">st</tspan></text>
<text x="471.5" y="55.2" font-size="10" fill="#111" font-weight="bold">2<tspan font-size="7" dy="-3.8">nd</tspan><tspan dy="3.8"> -5</tspan><tspan font-size="7" dy="-3.8">th</tspan></text>
<line x1="491" y1="58" x2="501.29" y2="61.9" stroke="#111" stroke-width="1.6"/>
<polygon points="505.5,63.5 499.9,64.16 501.75,59.3" fill="#111"/>
<text x="485" y="98.8" font-size="10" fill="#111" font-weight="bold">2<tspan font-size="7" dy="-3.8">nd</tspan><tspan dy="3.8"> -5</tspan><tspan font-size="7" dy="-3.8">th</tspan></text>
<line x1="498.7" y1="99.3" x2="495.79" y2="102.97" stroke="#111" stroke-width="1.6"/>
<polygon points="493,106.5 494.06,100.97 498.14,104.19" fill="#111"/>
<text x="486" y="127.3" font-size="10.5" text-anchor="start" fill="#111" font-weight="bold">A</text>
<text x="502.5" y="130" font-size="10" fill="#111" font-weight="bold">1<tspan font-size="7" dy="-3.8">st</tspan></text>
<text x="389.5" y="155.5" font-size="10" fill="#111" font-weight="bold">2<tspan font-size="7" dy="-3.8">nd</tspan><tspan dy="3.8"> -5</tspan><tspan font-size="7" dy="-3.8">th</tspan></text>
<line x1="417.5" y1="144.5" x2="430.48" y2="138.01" stroke="#111" stroke-width="1.6"/>
<polygon points="434.5,136 431.19,140.56 428.87,135.91" fill="#111"/>
<text x="432.5" y="167.5" font-size="10.5" text-anchor="start" fill="#111" font-weight="bold">B</text>
<text x="452.5" y="163" font-size="10" fill="#111" font-weight="bold">1<tspan font-size="7" dy="-3.8">st</tspan></text>
<text x="584.4" y="171.3" font-size="11.4" text-anchor="end" fill="#2a3250" font-weight="bold">A-G-S</text>
<defs>
<linearGradient id="gr" x1="0" x2="1" y1="0" y2="0">
<stop offset="0" stop-color="#580a10"/><stop offset="0.2" stop-color="#8c1019"/><stop offset="0.5" stop-color="#aa1320"/><stop offset="0.8" stop-color="#8a0e18"/><stop offset="1" stop-color="#4a0810"/></linearGradient>
<linearGradient id="gb" x1="0" x2="1" y1="0" y2="0">
<stop offset="0" stop-color="#1a2a6a"/><stop offset="0.25" stop-color="#3050b0"/><stop offset="0.5" stop-color="#3d5dc2"/><stop offset="0.8" stop-color="#2c48a8"/><stop offset="1" stop-color="#142460"/></linearGradient>
<linearGradient id="grt" x1="0" x2="1" y1="0" y2="0">
<stop offset="0" stop-color="#7a0c12"/><stop offset="0.5" stop-color="#a4141c"/><stop offset="1" stop-color="#6a0a10"/></linearGradient>
<linearGradient id="gbt" x1="0" x2="1" y1="0" y2="0">
<stop offset="0" stop-color="#2a48b0"/><stop offset="0.5" stop-color="#4d72e0"/><stop offset="1" stop-color="#2a44a8"/></linearGradient>
</defs>
<line x1="61.5" y1="236.2" x2="300.5" y2="236.2" stroke="#8a8a8a" stroke-width="1.1"/>
<line x1="51.2" y1="243" x2="61.5" y2="236.2" stroke="#8a8a8a" stroke-width="1"/>
<line x1="48" y1="243" x2="51.2" y2="243" stroke="#8a8a8a" stroke-width="1"/>
<line x1="61.5" y1="263.25" x2="300.5" y2="263.25" stroke="#8a8a8a" stroke-width="1.1"/>
<line x1="51.2" y1="270" x2="61.5" y2="263.25" stroke="#8a8a8a" stroke-width="1"/>
<line x1="48" y1="270" x2="51.2" y2="270" stroke="#8a8a8a" stroke-width="1"/>
<line x1="61.5" y1="290.3" x2="300.5" y2="290.3" stroke="#8a8a8a" stroke-width="1.1"/>
<line x1="51.2" y1="297" x2="61.5" y2="290.3" stroke="#8a8a8a" stroke-width="1"/>
<line x1="48" y1="297" x2="51.2" y2="297" stroke="#8a8a8a" stroke-width="1"/>
<line x1="61.5" y1="317.35" x2="300.5" y2="317.35" stroke="#8a8a8a" stroke-width="1.1"/>
<line x1="51.2" y1="324" x2="61.5" y2="317.35" stroke="#8a8a8a" stroke-width="1"/>
<line x1="48" y1="324" x2="51.2" y2="324" stroke="#8a8a8a" stroke-width="1"/>
<line x1="61.5" y1="344.4" x2="300.5" y2="344.4" stroke="#8a8a8a" stroke-width="1.1"/>
<line x1="51.2" y1="351" x2="61.5" y2="344.4" stroke="#8a8a8a" stroke-width="1"/>
<line x1="48" y1="351" x2="51.2" y2="351" stroke="#8a8a8a" stroke-width="1"/>
<line x1="61.5" y1="371.45" x2="300.5" y2="371.45" stroke="#8a8a8a" stroke-width="1.1"/>
<line x1="51.2" y1="378" x2="61.5" y2="371.45" stroke="#8a8a8a" stroke-width="1"/>
<line x1="48" y1="378" x2="51.2" y2="378" stroke="#8a8a8a" stroke-width="1"/>
<line x1="61.5" y1="398.5" x2="300.5" y2="398.5" stroke="#8a8a8a" stroke-width="1.1"/>
<line x1="51.2" y1="405" x2="61.5" y2="398.5" stroke="#8a8a8a" stroke-width="1"/>
<line x1="48" y1="405" x2="51.2" y2="405" stroke="#8a8a8a" stroke-width="1"/>
<line x1="51.2" y1="243" x2="51.2" y2="405.3" stroke="#999" stroke-width="1.2"/>
<line x1="61.5" y1="236.2" x2="61.5" y2="398.5" stroke="#bbb" stroke-width="0.8"/>
<polygon points="51.2,405.3 291.3,405.8 300.5,398.8 61.5,398.5" fill="#fcfcfc" stroke="#8a8a8a" stroke-width="1"/>
<line x1="51.2" y1="405.5" x2="51.2" y2="409.5" stroke="#8a8a8a" stroke-width="1"/>
<line x1="91.2" y1="405.5" x2="91.2" y2="409.5" stroke="#8a8a8a" stroke-width="1"/>
<line x1="131.2" y1="405.5" x2="131.2" y2="409.5" stroke="#8a8a8a" stroke-width="1"/>
<line x1="171.2" y1="405.5" x2="171.2" y2="409.5" stroke="#8a8a8a" stroke-width="1"/>
<line x1="211.2" y1="405.5" x2="211.2" y2="409.5" stroke="#8a8a8a" stroke-width="1"/>
<line x1="251.2" y1="405.5" x2="251.2" y2="409.5" stroke="#8a8a8a" stroke-width="1"/>
<line x1="291.2" y1="405.5" x2="291.2" y2="409.5" stroke="#8a8a8a" stroke-width="1"/>
<path d="M62,243.2 L62,402.6 A6.8,2.3 0 0 0 75.6,402.6 L75.6,243.2 Z" fill="url(#gr)"/>
<ellipse cx="68.8" cy="243.2" rx="6.8" ry="2.3" fill="url(#grt)" stroke="#6a0a10" stroke-width="0.6"/>
<path d="M75.6,289.5 L75.6,402.6 A6.7,2.3 0 0 0 89,402.6 L89,289.5 Z" fill="url(#gb)"/>
<ellipse cx="82.3" cy="289.5" rx="6.7" ry="2.3" fill="url(#gbt)" stroke="#2a40a0" stroke-width="0.6"/>
<path d="M102,271.5 L102,402.6 A6.8,2.3 0 0 0 115.6,402.6 L115.6,271.5 Z" fill="url(#gr)"/>
<ellipse cx="108.8" cy="271.5" rx="6.8" ry="2.3" fill="url(#grt)" stroke="#6a0a10" stroke-width="0.6"/>
<path d="M115.6,333 L115.6,402.6 A6.7,2.3 0 0 0 129,402.6 L129,333 Z" fill="url(#gb)"/>
<ellipse cx="122.3" cy="333" rx="6.7" ry="2.3" fill="url(#gbt)" stroke="#2a40a0" stroke-width="0.6"/>
<path d="M142,300.4 L142,402.6 A6.8,2.3 0 0 0 155.6,402.6 L155.6,300.4 Z" fill="url(#gr)"/>
<ellipse cx="148.8" cy="300.4" rx="6.8" ry="2.3" fill="url(#grt)" stroke="#6a0a10" stroke-width="0.6"/>
<path d="M155.6,341.8 L155.6,402.6 A6.7,2.3 0 0 0 169,402.6 L169,341.8 Z" fill="url(#gb)"/>
<ellipse cx="162.3" cy="341.8" rx="6.7" ry="2.3" fill="url(#gbt)" stroke="#2a40a0" stroke-width="0.6"/>
<path d="M182,333 L182,402.6 A6.8,2.3 0 0 0 195.6,402.6 L195.6,333 Z" fill="url(#gr)"/>
<ellipse cx="188.8" cy="333" rx="6.8" ry="2.3" fill="url(#grt)" stroke="#6a0a10" stroke-width="0.6"/>
<path d="M195.6,361.3 L195.6,402.6 A6.7,2.3 0 0 0 209,402.6 L209,361.3 Z" fill="url(#gb)"/>
<ellipse cx="202.3" cy="361.3" rx="6.7" ry="2.3" fill="url(#gbt)" stroke="#2a40a0" stroke-width="0.6"/>
<path d="M222,348.3 L222,402.6 A6.8,2.3 0 0 0 235.6,402.6 L235.6,348.3 Z" fill="url(#gr)"/>
<ellipse cx="228.8" cy="348.3" rx="6.8" ry="2.3" fill="url(#grt)" stroke="#6a0a10" stroke-width="0.6"/>
<path d="M235.6,377.4 L235.6,402.6 A6.7,2.3 0 0 0 249,402.6 L249,377.4 Z" fill="url(#gb)"/>
<ellipse cx="242.3" cy="377.4" rx="6.7" ry="2.3" fill="url(#gbt)" stroke="#2a40a0" stroke-width="0.6"/>
<path d="M262,359.8 L262,402.6 A6.8,2.3 0 0 0 275.6,402.6 L275.6,359.8 Z" fill="url(#gr)"/>
<ellipse cx="268.8" cy="359.8" rx="6.8" ry="2.3" fill="url(#grt)" stroke="#6a0a10" stroke-width="0.6"/>
<path d="M275.6,391.4 L275.6,402.6 A6.7,2.3 0 0 0 289,402.6 L289,391.4 Z" fill="url(#gb)"/>
<ellipse cx="282.3" cy="391.4" rx="6.7" ry="2.3" fill="url(#gbt)" stroke="#2a40a0" stroke-width="0.6"/>
<text x="43.8" y="250.7" font-size="10.4" text-anchor="end" fill="#111" font-weight="bold">1200</text>
<text x="43.8" y="274.5" font-size="10.4" text-anchor="end" fill="#111" font-weight="bold">1000</text>
<text x="43.8" y="300.2" font-size="10.4" text-anchor="end" fill="#111" font-weight="bold">800</text>
<text x="43.8" y="326.6" font-size="10.4" text-anchor="end" fill="#111" font-weight="bold">600</text>
<text x="43.8" y="351.7" font-size="10.4" text-anchor="end" fill="#111" font-weight="bold">400</text>
<text x="43.8" y="376" font-size="10.4" text-anchor="end" fill="#111" font-weight="bold">200</text>
<text x="43.8" y="400" font-size="10.4" text-anchor="end" fill="#111" font-weight="bold">0</text>
<text x="72.3" y="419.1" font-size="10.4" text-anchor="middle" fill="#111" font-weight="bold">0.3</text>
<text x="110.2" y="419.1" font-size="10.4" text-anchor="middle" fill="#111" font-weight="bold">0.75</text>
<text x="155" y="419.1" font-size="10.4" text-anchor="middle" fill="#111" font-weight="bold">1.5</text>
<text x="192.3" y="419.1" font-size="10.4" text-anchor="middle" fill="#111" font-weight="bold">3</text>
<text x="231.2" y="419.1" font-size="10.4" text-anchor="middle" fill="#111" font-weight="bold">4.5</text>
<text x="272.5" y="419.1" font-size="10.4" text-anchor="middle" fill="#111" font-weight="bold">6</text>
<text x="10.6" y="313.3" font-size="10.6" text-anchor="middle" fill="#111" font-weight="bold" transform="rotate(-90 10.6 313.3)">Capacity (mAh g<tspan font-size="6.5" dy="-4">-1</tspan><tspan dy="4">)</tspan></text>
<text x="105.5" y="436.3" font-size="12" fill="#111" font-weight="bold">Current density (A g<tspan font-size="7.5" dy="-5">-1</tspan><tspan dy="5">)</tspan></text>
<text x="288.3" y="252.8" font-size="17.5" text-anchor="start" fill="#111" font-weight="bold">c</text>
<rect x="195.3" y="249.6" width="5.2" height="5" fill="#6e1420" stroke="#4a0a12" stroke-width="0.5"/>
<rect x="196.6" y="274.6" width="5.2" height="5" fill="#2a3470" stroke="#141a40" stroke-width="0.5"/>
<text x="209" y="256" font-size="11.3" text-anchor="start" fill="#8a1c28" font-weight="bold">N-G-S</text>
<text x="209" y="281" font-size="11.3" text-anchor="start" fill="#1e2852" font-weight="bold">A-G-S</text>
<rect x="353.3" y="235.6" width="236.2" height="172.2" fill="none" stroke="#111" stroke-width="1.6"/>
<line x1="350.1" y1="407.3" x2="353.3" y2="407.3" stroke="#111" stroke-width="1.2"/>
<text x="348" y="410.9" font-size="10" text-anchor="end" fill="#111" font-weight="bold">0</text>
<line x1="350.1" y1="381" x2="353.3" y2="381" stroke="#111" stroke-width="1.2"/>
<text x="348" y="384.6" font-size="10" text-anchor="end" fill="#111" font-weight="bold">200</text>
<line x1="350.1" y1="354.7" x2="353.3" y2="354.7" stroke="#111" stroke-width="1.2"/>
<text x="348" y="358.3" font-size="10" text-anchor="end" fill="#111" font-weight="bold">400</text>
<line x1="350.1" y1="328.4" x2="353.3" y2="328.4" stroke="#111" stroke-width="1.2"/>
<text x="348" y="332" font-size="10" text-anchor="end" fill="#111" font-weight="bold">600</text>
<line x1="350.1" y1="302.1" x2="353.3" y2="302.1" stroke="#111" stroke-width="1.2"/>
<text x="348" y="305.7" font-size="10" text-anchor="end" fill="#111" font-weight="bold">800</text>
<line x1="350.1" y1="275.8" x2="353.3" y2="275.8" stroke="#111" stroke-width="1.2"/>
<text x="348" y="279.4" font-size="10" text-anchor="end" fill="#111" font-weight="bold">1000</text>
<line x1="350.1" y1="249.5" x2="353.3" y2="249.5" stroke="#111" stroke-width="1.2"/>
<text x="348" y="253.1" font-size="10" text-anchor="end" fill="#111" font-weight="bold">1200</text>
<line x1="351.3" y1="394.15" x2="353.3" y2="394.15" stroke="#111" stroke-width="1"/>
<line x1="351.3" y1="367.85" x2="353.3" y2="367.85" stroke="#111" stroke-width="1"/>
<line x1="351.3" y1="341.55" x2="353.3" y2="341.55" stroke="#111" stroke-width="1"/>
<line x1="351.3" y1="315.25" x2="353.3" y2="315.25" stroke="#111" stroke-width="1"/>
<line x1="351.3" y1="288.95" x2="353.3" y2="288.95" stroke="#111" stroke-width="1"/>
<line x1="351.3" y1="262.65" x2="353.3" y2="262.65" stroke="#111" stroke-width="1"/>
<line x1="353.3" y1="407.8" x2="353.3" y2="410.6" stroke="#111" stroke-width="1.2"/>
<text x="353.3" y="421.2" font-size="10" text-anchor="middle" fill="#111" font-weight="bold">0</text>
<line x1="400.54" y1="407.8" x2="400.54" y2="410.6" stroke="#111" stroke-width="1.2"/>
<text x="400.54" y="421.2" font-size="10" text-anchor="middle" fill="#111" font-weight="bold">20</text>
<line x1="447.78" y1="407.8" x2="447.78" y2="410.6" stroke="#111" stroke-width="1.2"/>
<text x="447.78" y="421.2" font-size="10" text-anchor="middle" fill="#111" font-weight="bold">40</text>
<line x1="495.02" y1="407.8" x2="495.02" y2="410.6" stroke="#111" stroke-width="1.2"/>
<text x="495.02" y="421.2" font-size="10" text-anchor="middle" fill="#111" font-weight="bold">60</text>
<line x1="542.26" y1="407.8" x2="542.26" y2="410.6" stroke="#111" stroke-width="1.2"/>
<text x="542.26" y="421.2" font-size="10" text-anchor="middle" fill="#111" font-weight="bold">80</text>
<line x1="589.5" y1="407.8" x2="589.5" y2="410.6" stroke="#111" stroke-width="1.2"/>
<text x="589.5" y="421.2" font-size="10" text-anchor="middle" fill="#111" font-weight="bold">100</text>
<line x1="376.92" y1="407.8" x2="376.92" y2="405.8" stroke="#111" stroke-width="1"/>
<line x1="424.16" y1="407.8" x2="424.16" y2="405.8" stroke="#111" stroke-width="1"/>
<line x1="471.4" y1="407.8" x2="471.4" y2="405.8" stroke="#111" stroke-width="1"/>
<line x1="518.64" y1="407.8" x2="518.64" y2="405.8" stroke="#111" stroke-width="1"/>
<line x1="565.88" y1="407.8" x2="565.88" y2="405.8" stroke="#111" stroke-width="1"/>
<text x="322.2" y="315" font-size="15" text-anchor="middle" fill="#111" font-weight="bold" transform="rotate(-90 322.2 315)">Capacity(mAhg<tspan font-size="9" dy="-6">-1</tspan><tspan dy="6">)</tspan></text>
<text x="472.5" y="434.3" font-size="14.2" text-anchor="middle" fill="#111" font-weight="bold">Cycle number</text>
<text x="571.5" y="257.6" font-size="18" text-anchor="start" fill="#111" font-weight="bold">d</text>
<text x="546.3" y="283" font-size="11.4" text-anchor="start" fill="#6e1a2a" font-weight="bold">N-G-S</text>
<text x="545.8" y="345.8" font-size="11.4" text-anchor="start" fill="#22284a" font-weight="bold">A-G-S</text>
<text x="428" y="388.2" font-size="12.2" text-anchor="start" fill="#111" font-weight="bold">Current density=0.3 A g<tspan font-size="7.6" dy="-5.12">-1</tspan><tspan dy="5.12"></tspan></text>
<line x1="575.5" y1="384.7" x2="575.5" y2="389.3" stroke="#333" stroke-width="0.9"/>
<g fill="#e6a6a6" stroke="#a81e24" stroke-width="1.1"><circle cx="355.31" cy="249.69" r="2.1"/><circle cx="357.67" cy="264.04" r="2.1"/><circle cx="360.03" cy="267.97" r="2.1"/><circle cx="362.39" cy="272.05" r="2.1"/><circle cx="364.76" cy="275.31" r="2.1"/><circle cx="367.12" cy="277.25" r="2.1"/><circle cx="369.48" cy="278.3" r="2.1"/><circle cx="371.84" cy="279.39" r="2.1"/><circle cx="374.2" cy="280.18" r="2.1"/><circle cx="376.57" cy="281.32" r="2.1"/><circle cx="378.93" cy="282.93" r="2.1"/><circle cx="381.29" cy="282.98" r="2.1"/><circle cx="383.65" cy="282.52" r="2.1"/><circle cx="386.01" cy="283.04" r="2.1"/><circle cx="388.38" cy="286.03" r="2.1"/><circle cx="390.74" cy="289" r="2.1"/><circle cx="393.1" cy="287.98" r="2.1"/><circle cx="395.46" cy="285.76" r="2.1"/><circle cx="397.82" cy="286.11" r="2.1"/><circle cx="400.19" cy="287.07" r="2.1"/><circle cx="402.55" cy="289.03" r="2.1"/><circle cx="404.91" cy="287.03" r="2.1"/><circle cx="407.27" cy="284.7" r="2.1"/><circle cx="409.63" cy="284.91" r="2.1"/><circle cx="412" cy="285.22" r="2.1"/><circle cx="414.36" cy="285.4" r="2.1"/><circle cx="416.72" cy="286.16" r="2.1"/><circle cx="419.08" cy="284.8" r="2.1"/><circle cx="421.44" cy="283.47" r="2.1"/><circle cx="423.81" cy="284.71" r="2.1"/><circle cx="426.17" cy="285.6" r="2.1"/><circle cx="428.53" cy="285.5" r="2.1"/><circle cx="430.89" cy="285.09" r="2.1"/><circle cx="433.25" cy="285.51" r="2.1"/><circle cx="435.62" cy="285.47" r="2.1"/><circle cx="437.98" cy="286.25" r="2.1"/><circle cx="440.34" cy="286.69" r="2.1"/><circle cx="442.7" cy="287.23" r="2.1"/><circle cx="445.06" cy="288.46" r="2.1"/><circle cx="447.43" cy="289.64" r="2.1"/><circle cx="449.79" cy="291.18" r="2.1"/><circle cx="452.15" cy="290.86" r="2.1"/><circle cx="454.51" cy="290.98" r="2.1"/><circle cx="456.87" cy="290.78" r="2.1"/><circle cx="459.24" cy="290.9" r="2.1"/><circle cx="461.6" cy="290.83" r="2.1"/><circle cx="463.96" cy="290.81" r="2.1"/><circle cx="466.32" cy="291.47" r="2.1"/><circle cx="468.68" cy="292.27" r="2.1"/><circle cx="471.05" cy="293.26" r="2.1"/><circle cx="473.41" cy="293.08" r="2.1"/><circle cx="475.77" cy="293.08" r="2.1"/><circle cx="478.13" cy="292.88" r="2.1"/><circle cx="480.49" cy="292.81" r="2.1"/><circle cx="482.86" cy="292.11" r="2.1"/><circle cx="485.22" cy="291.24" r="2.1"/><circle cx="487.58" cy="291.1" r="2.1"/><circle cx="489.94" cy="290.6" r="2.1"/><circle cx="492.3" cy="290.21" r="2.1"/><circle cx="494.67" cy="290.25" r="2.1"/><circle cx="497.03" cy="290.59" r="2.1"/><circle cx="499.39" cy="290.53" r="2.1"/><circle cx="501.75" cy="291.53" r="2.1"/><circle cx="504.11" cy="292.25" r="2.1"/><circle cx="506.48" cy="292.95" r="2.1"/><circle cx="508.84" cy="292.96" r="2.1"/><circle cx="511.2" cy="292.47" r="2.1"/><circle cx="513.56" cy="291.35" r="2.1"/><circle cx="515.92" cy="287.73" r="2.1"/><circle cx="518.29" cy="287.38" r="2.1"/><circle cx="520.65" cy="287.3" r="2.1"/><circle cx="523.01" cy="287.29" r="2.1"/><circle cx="525.37" cy="287.52" r="2.1"/><circle cx="527.73" cy="289.07" r="2.1"/><circle cx="530.1" cy="291.12" r="2.1"/><circle cx="532.46" cy="292.94" r="2.1"/><circle cx="534.82" cy="294.85" r="2.1"/><circle cx="537.18" cy="294.73" r="2.1"/><circle cx="539.54" cy="295.35" r="2.1"/><circle cx="541.91" cy="295.34" r="2.1"/><circle cx="544.27" cy="295.89" r="2.1"/><circle cx="546.63" cy="296.12" r="2.1"/><circle cx="548.99" cy="295.93" r="2.1"/><circle cx="551.35" cy="296.32" r="2.1"/><circle cx="553.72" cy="296" r="2.1"/><circle cx="556.08" cy="295.95" r="2.1"/><circle cx="558.44" cy="296.36" r="2.1"/><circle cx="560.8" cy="296.11" r="2.1"/><circle cx="563.16" cy="296.27" r="2.1"/><circle cx="565.53" cy="296.46" r="2.1"/><circle cx="567.89" cy="296.64" r="2.1"/><circle cx="570.25" cy="296.42" r="2.1"/><circle cx="572.61" cy="296.41" r="2.1"/><circle cx="574.97" cy="296.96" r="2.1"/><circle cx="577.34" cy="296.66" r="2.1"/><circle cx="579.7" cy="295.17" r="2.1"/><circle cx="582.06" cy="293.25" r="2.1"/><circle cx="584.42" cy="292.14" r="2.1"/><circle cx="586.78" cy="291.79" r="2.1"/><circle cx="589.15" cy="291.42" r="2.1"/></g>
<g fill="#8e98d8" stroke="#26307e" stroke-width="1.1"><circle cx="355.31" cy="271.51" r="2.0"/><circle cx="357.67" cy="286.55" r="2.0"/><circle cx="360.03" cy="295.13" r="2.0"/><circle cx="362.39" cy="303.03" r="2.0"/><circle cx="364.76" cy="309.07" r="2.0"/><circle cx="367.12" cy="312.63" r="2.0"/><circle cx="369.48" cy="315.94" r="2.0"/><circle cx="371.84" cy="319.5" r="2.0"/><circle cx="374.2" cy="322.08" r="2.0"/><circle cx="376.57" cy="324.89" r="2.0"/><circle cx="378.93" cy="327.15" r="2.0"/><circle cx="381.29" cy="328.73" r="2.0"/><circle cx="383.65" cy="330.2" r="2.0"/><circle cx="386.01" cy="331.42" r="2.0"/><circle cx="388.38" cy="332.84" r="2.0"/><circle cx="390.74" cy="334.07" r="2.0"/><circle cx="393.1" cy="335.01" r="2.0"/><circle cx="395.46" cy="336.44" r="2.0"/><circle cx="397.82" cy="337.64" r="2.0"/><circle cx="400.19" cy="338.61" r="2.0"/><circle cx="402.55" cy="339.95" r="2.0"/><circle cx="404.91" cy="340.76" r="2.0"/><circle cx="407.27" cy="341.71" r="2.0"/><circle cx="409.63" cy="342.45" r="2.0"/><circle cx="412" cy="343.31" r="2.0"/><circle cx="414.36" cy="343.93" r="2.0"/><circle cx="416.72" cy="344.25" r="2.0"/><circle cx="419.08" cy="344.87" r="2.0"/><circle cx="421.44" cy="345.44" r="2.0"/><circle cx="423.81" cy="345.86" r="2.0"/><circle cx="426.17" cy="345.87" r="2.0"/><circle cx="428.53" cy="346.25" r="2.0"/><circle cx="430.89" cy="346.6" r="2.0"/><circle cx="433.25" cy="346.79" r="2.0"/><circle cx="435.62" cy="347.11" r="2.0"/><circle cx="437.98" cy="347.47" r="2.0"/><circle cx="440.34" cy="347.96" r="2.0"/><circle cx="442.7" cy="348.51" r="2.0"/><circle cx="445.06" cy="348.85" r="2.0"/><circle cx="447.43" cy="349.34" r="2.0"/><circle cx="449.79" cy="349.85" r="2.0"/><circle cx="452.15" cy="349.9" r="2.0"/><circle cx="454.51" cy="350.47" r="2.0"/><circle cx="456.87" cy="350.88" r="2.0"/><circle cx="459.24" cy="351.03" r="2.0"/><circle cx="461.6" cy="351.25" r="2.0"/><circle cx="463.96" cy="351.74" r="2.0"/><circle cx="466.32" cy="351.78" r="2.0"/><circle cx="468.68" cy="352.02" r="2.0"/><circle cx="471.05" cy="352.27" r="2.0"/><circle cx="473.41" cy="352.5" r="2.0"/><circle cx="475.77" cy="352.38" r="2.0"/><circle cx="478.13" cy="352.59" r="2.0"/><circle cx="480.49" cy="352.72" r="2.0"/><circle cx="482.86" cy="353.08" r="2.0"/><circle cx="485.22" cy="353.1" r="2.0"/><circle cx="487.58" cy="353.44" r="2.0"/><circle cx="489.94" cy="353.34" r="2.0"/><circle cx="492.3" cy="353.58" r="2.0"/><circle cx="494.67" cy="353.89" r="2.0"/><circle cx="497.03" cy="354.17" r="2.0"/><circle cx="499.39" cy="354.19" r="2.0"/><circle cx="501.75" cy="354.28" r="2.0"/><circle cx="504.11" cy="354.43" r="2.0"/><circle cx="506.48" cy="354.77" r="2.0"/><circle cx="508.84" cy="354.83" r="2.0"/><circle cx="511.2" cy="355.26" r="2.0"/><circle cx="513.56" cy="355.45" r="2.0"/><circle cx="515.92" cy="355.37" r="2.0"/><circle cx="518.29" cy="355.58" r="2.0"/><circle cx="520.65" cy="355.96" r="2.0"/><circle cx="523.01" cy="356.07" r="2.0"/><circle cx="525.37" cy="356.31" r="2.0"/><circle cx="527.73" cy="356.3" r="2.0"/><circle cx="530.1" cy="356.39" r="2.0"/><circle cx="532.46" cy="356.63" r="2.0"/><circle cx="534.82" cy="357" r="2.0"/><circle cx="537.18" cy="356.91" r="2.0"/><circle cx="539.54" cy="357.05" r="2.0"/><circle cx="541.91" cy="357.18" r="2.0"/><circle cx="544.27" cy="357.29" r="2.0"/><circle cx="546.63" cy="357.4" r="2.0"/><circle cx="548.99" cy="357.71" r="2.0"/><circle cx="551.35" cy="357.52" r="2.0"/><circle cx="553.72" cy="357.56" r="2.0"/><circle cx="556.08" cy="358.05" r="2.0"/><circle cx="558.44" cy="358.15" r="2.0"/><circle cx="560.8" cy="358.32" r="2.0"/><circle cx="563.16" cy="358.23" r="2.0"/><circle cx="565.53" cy="358.57" r="2.0"/><circle cx="567.89" cy="358.69" r="2.0"/><circle cx="570.25" cy="358.54" r="2.0"/><circle cx="572.61" cy="358.88" r="2.0"/><circle cx="574.97" cy="359.05" r="2.0"/><circle cx="577.34" cy="359.11" r="2.0"/><circle cx="579.7" cy="359.18" r="2.0"/><circle cx="582.06" cy="359.22" r="2.0"/><circle cx="584.42" cy="359.37" r="2.0"/><circle cx="586.78" cy="359.46" r="2.0"/><circle cx="589.15" cy="359.52" r="2.0"/></g>
<rect x="66.1" y="470.3" width="490.15" height="192.7" fill="none" stroke="#111" stroke-width="1.7"/>
<line x1="62.5" y1="662.9" x2="66.1" y2="662.9" stroke="#111" stroke-width="1.3"/>
<text x="60.4" y="667.5" font-size="10.4" text-anchor="end" fill="#111" font-weight="bold">0</text>
<line x1="62.5" y1="630.7" x2="66.1" y2="630.7" stroke="#111" stroke-width="1.3"/>
<text x="60.4" y="635.3" font-size="10.4" text-anchor="end" fill="#111" font-weight="bold">200</text>
<line x1="62.5" y1="598.5" x2="66.1" y2="598.5" stroke="#111" stroke-width="1.3"/>
<text x="60.4" y="603.1" font-size="10.4" text-anchor="end" fill="#111" font-weight="bold">400</text>
<line x1="62.5" y1="566.3" x2="66.1" y2="566.3" stroke="#111" stroke-width="1.3"/>
<text x="60.4" y="570.9" font-size="10.4" text-anchor="end" fill="#111" font-weight="bold">600</text>
<line x1="62.5" y1="534.1" x2="66.1" y2="534.1" stroke="#111" stroke-width="1.3"/>
<text x="60.4" y="538.7" font-size="10.4" text-anchor="end" fill="#111" font-weight="bold">800</text>
<line x1="62.5" y1="501.9" x2="66.1" y2="501.9" stroke="#111" stroke-width="1.3"/>
<text x="60.4" y="506.5" font-size="10.4" text-anchor="end" fill="#111" font-weight="bold">1000</text>
<line x1="62.5" y1="469.7" x2="66.1" y2="469.7" stroke="#111" stroke-width="1.3"/>
<text x="60.4" y="474.3" font-size="10.4" text-anchor="end" fill="#111" font-weight="bold">1200</text>
<line x1="63.9" y1="646.8" x2="66.1" y2="646.8" stroke="#111" stroke-width="1"/>
<line x1="63.9" y1="614.6" x2="66.1" y2="614.6" stroke="#111" stroke-width="1"/>
<line x1="63.9" y1="582.4" x2="66.1" y2="582.4" stroke="#111" stroke-width="1"/>
<line x1="63.9" y1="550.2" x2="66.1" y2="550.2" stroke="#111" stroke-width="1"/>
<line x1="63.9" y1="518" x2="66.1" y2="518" stroke="#111" stroke-width="1"/>
<line x1="63.9" y1="485.8" x2="66.1" y2="485.8" stroke="#111" stroke-width="1"/>
<line x1="66.1" y1="663" x2="66.1" y2="666.4" stroke="#111" stroke-width="1.3"/>
<text x="66.1" y="679" font-size="10.4" text-anchor="middle" fill="#111" font-weight="bold">0</text>
<line x1="147.79" y1="663" x2="147.79" y2="666.4" stroke="#111" stroke-width="1.3"/>
<text x="147.79" y="679" font-size="10.4" text-anchor="middle" fill="#111" font-weight="bold">50</text>
<line x1="229.48" y1="663" x2="229.48" y2="666.4" stroke="#111" stroke-width="1.3"/>
<text x="229.48" y="679" font-size="10.4" text-anchor="middle" fill="#111" font-weight="bold">100</text>
<line x1="311.17" y1="663" x2="311.17" y2="666.4" stroke="#111" stroke-width="1.3"/>
<text x="311.17" y="679" font-size="10.4" text-anchor="middle" fill="#111" font-weight="bold">150</text>
<line x1="392.87" y1="663" x2="392.87" y2="666.4" stroke="#111" stroke-width="1.3"/>
<text x="392.87" y="679" font-size="10.4" text-anchor="middle" fill="#111" font-weight="bold">200</text>
<line x1="474.56" y1="663" x2="474.56" y2="666.4" stroke="#111" stroke-width="1.3"/>
<text x="474.56" y="679" font-size="10.4" text-anchor="middle" fill="#111" font-weight="bold">250</text>
<line x1="556.25" y1="663" x2="556.25" y2="666.4" stroke="#111" stroke-width="1.3"/>
<text x="556.25" y="679" font-size="10.4" text-anchor="middle" fill="#111" font-weight="bold">300</text>
<line x1="106.95" y1="663" x2="106.95" y2="665.2" stroke="#111" stroke-width="1"/>
<line x1="188.64" y1="663" x2="188.64" y2="665.2" stroke="#111" stroke-width="1"/>
<line x1="270.33" y1="663" x2="270.33" y2="665.2" stroke="#111" stroke-width="1"/>
<line x1="352.02" y1="663" x2="352.02" y2="665.2" stroke="#111" stroke-width="1"/>
<line x1="433.71" y1="663" x2="433.71" y2="665.2" stroke="#111" stroke-width="1"/>
<line x1="515.4" y1="663" x2="515.4" y2="665.2" stroke="#111" stroke-width="1"/>
<line x1="556.25" y1="663" x2="559.85" y2="663" stroke="#111" stroke-width="1.3"/>
<text x="562.6" y="666.7" font-size="10.4" text-anchor="start" fill="#8a3aa2" font-weight="bold">0</text>
<line x1="556.25" y1="626.2" x2="559.85" y2="626.2" stroke="#111" stroke-width="1.3"/>
<text x="562.6" y="629.9" font-size="10.4" text-anchor="start" fill="#8a3aa2" font-weight="bold">20</text>
<line x1="556.25" y1="589.4" x2="559.85" y2="589.4" stroke="#111" stroke-width="1.3"/>
<text x="562.6" y="593.1" font-size="10.4" text-anchor="start" fill="#8a3aa2" font-weight="bold">40</text>
<line x1="556.25" y1="552.6" x2="559.85" y2="552.6" stroke="#111" stroke-width="1.3"/>
<text x="562.6" y="556.3" font-size="10.4" text-anchor="start" fill="#8a3aa2" font-weight="bold">60</text>
<line x1="556.25" y1="515.8" x2="559.85" y2="515.8" stroke="#111" stroke-width="1.3"/>
<text x="562.6" y="519.5" font-size="10.4" text-anchor="start" fill="#8a3aa2" font-weight="bold">80</text>
<line x1="556.25" y1="479" x2="559.85" y2="479" stroke="#111" stroke-width="1.3"/>
<text x="562.6" y="482.7" font-size="10.4" text-anchor="start" fill="#8a3aa2" font-weight="bold">100</text>
<line x1="556.25" y1="644.6" x2="558.45" y2="644.6" stroke="#111" stroke-width="1"/>
<line x1="556.25" y1="607.8" x2="558.45" y2="607.8" stroke="#111" stroke-width="1"/>
<line x1="556.25" y1="571" x2="558.45" y2="571" stroke="#111" stroke-width="1"/>
<line x1="556.25" y1="534.2" x2="558.45" y2="534.2" stroke="#111" stroke-width="1"/>
<line x1="556.25" y1="497.4" x2="558.45" y2="497.4" stroke="#111" stroke-width="1"/>
<text x="26" y="560.3" font-size="16.3" text-anchor="middle" fill="#111" font-weight="bold" transform="rotate(-90 26 560.3)">Capacity(mAhg<tspan font-size="10" dy="-6.5">-1</tspan><tspan dy="6.5">)</tspan></text>
<text x="596.5" y="569.8" font-size="13.3" text-anchor="middle" fill="#a034b8" font-weight="bold" transform="rotate(-90 596.5 569.8)">Coulombic Efficiency(%)</text>
<text x="328.9" y="692.9" font-size="15.8" text-anchor="middle" fill="#111" font-weight="bold">Cycle number</text>
<text x="8.6" y="474.8" font-size="18" text-anchor="start" fill="#111" font-weight="bold">e</text>
<text x="375.7" y="646.7" font-size="12" text-anchor="start" fill="#111" font-weight="bold">Current density=0.75 A g<tspan font-size="7.4" dy="-5.04">-1</tspan><tspan dy="5.04"></tspan></text>
<g fill="#f4f6ff" stroke="#5a66b0" stroke-width="0.9"><circle cx="66.1" cy="487.44" r="2.3"/><circle cx="67.73" cy="486.99" r="2.3"/><circle cx="69.37" cy="487.86" r="2.3"/><circle cx="71" cy="486.66" r="2.3"/><circle cx="72.64" cy="488.07" r="2.3"/><circle cx="74.27" cy="487.76" r="2.3"/><circle cx="75.9" cy="488.16" r="2.3"/><circle cx="77.54" cy="488.15" r="2.3"/><circle cx="79.17" cy="488.18" r="2.3"/><circle cx="80.8" cy="487.7" r="2.3"/><circle cx="82.44" cy="486.83" r="2.3"/><circle cx="84.07" cy="488.03" r="2.3"/><circle cx="85.71" cy="487.14" r="2.3"/><circle cx="87.34" cy="487.38" r="2.3"/><circle cx="88.97" cy="487.99" r="2.3"/><circle cx="90.61" cy="487.8" r="2.3"/><circle cx="92.24" cy="487.65" r="2.3"/><circle cx="93.88" cy="488.52" r="2.3"/><circle cx="95.51" cy="488.03" r="2.3"/><circle cx="97.14" cy="487.62" r="2.3"/><circle cx="98.78" cy="487.51" r="2.3"/><circle cx="100.41" cy="488.52" r="2.3"/><circle cx="102.04" cy="487.93" r="2.3"/><circle cx="103.68" cy="488.45" r="2.3"/><circle cx="105.31" cy="487.79" r="2.3"/><circle cx="106.95" cy="487.57" r="2.3"/><circle cx="108.58" cy="488.14" r="2.3"/><circle cx="110.21" cy="488.63" r="2.3"/><circle cx="111.85" cy="487.62" r="2.3"/><circle cx="113.48" cy="488.65" r="2.3"/><circle cx="115.11" cy="488.88" r="2.3"/><circle cx="116.75" cy="488.73" r="2.3"/><circle cx="118.38" cy="488.79" r="2.3"/><circle cx="120.02" cy="487.51" r="2.3"/><circle cx="121.65" cy="488.53" r="2.3"/><circle cx="123.28" cy="488.93" r="2.3"/><circle cx="124.92" cy="487.65" r="2.3"/><circle cx="126.55" cy="488.03" r="2.3"/><circle cx="128.19" cy="488.05" r="2.3"/><circle cx="129.82" cy="488.49" r="2.3"/><circle cx="131.45" cy="488.34" r="2.3"/><circle cx="133.09" cy="488.45" r="2.3"/><circle cx="134.72" cy="488.96" r="2.3"/><circle cx="136.35" cy="487.74" r="2.3"/><circle cx="137.99" cy="487.85" r="2.3"/><circle cx="139.62" cy="487.99" r="2.3"/><circle cx="141.26" cy="488.01" r="2.3"/><circle cx="142.89" cy="487.94" r="2.3"/><circle cx="144.52" cy="489.41" r="2.3"/><circle cx="146.16" cy="489.24" r="2.3"/><circle cx="147.79" cy="488.04" r="2.3"/><circle cx="149.43" cy="488.73" r="2.3"/><circle cx="151.06" cy="488.45" r="2.3"/><circle cx="152.69" cy="488.48" r="2.3"/><circle cx="154.33" cy="488.56" r="2.3"/><circle cx="155.96" cy="489.05" r="2.3"/><circle cx="157.59" cy="488.98" r="2.3"/><circle cx="159.23" cy="488.64" r="2.3"/><circle cx="160.86" cy="488.4" r="2.3"/><circle cx="162.5" cy="488.64" r="2.3"/><circle cx="164.13" cy="488.34" r="2.3"/><circle cx="165.76" cy="489.05" r="2.3"/><circle cx="167.4" cy="489.33" r="2.3"/><circle cx="169.03" cy="488.82" r="2.3"/><circle cx="170.67" cy="488.36" r="2.3"/><circle cx="172.3" cy="488.54" r="2.3"/><circle cx="173.93" cy="488.88" r="2.3"/><circle cx="175.57" cy="489.27" r="2.3"/><circle cx="177.2" cy="489.58" r="2.3"/><circle cx="178.83" cy="488.96" r="2.3"/><circle cx="180.47" cy="489.66" r="2.3"/><circle cx="182.1" cy="489.39" r="2.3"/><circle cx="183.74" cy="489.11" r="2.3"/><circle cx="185.37" cy="489.04" r="2.3"/><circle cx="187" cy="489.26" r="2.3"/><circle cx="188.64" cy="489.62" r="2.3"/><circle cx="190.27" cy="489.19" r="2.3"/><circle cx="191.91" cy="489.65" r="2.3"/><circle cx="193.54" cy="489.3" r="2.3"/><circle cx="195.17" cy="488.98" r="2.3"/><circle cx="196.81" cy="489.47" r="2.3"/><circle cx="198.44" cy="489.75" r="2.3"/><circle cx="200.07" cy="488.77" r="2.3"/><circle cx="201.71" cy="489.36" r="2.3"/><circle cx="203.34" cy="489.39" r="2.3"/><circle cx="204.98" cy="490.13" r="2.3"/><circle cx="206.61" cy="490.25" r="2.3"/><circle cx="208.24" cy="489.37" r="2.3"/><circle cx="209.88" cy="490.23" r="2.3"/><circle cx="211.51" cy="490.12" r="2.3"/><circle cx="213.14" cy="489.33" r="2.3"/><circle cx="214.78" cy="489.7" r="2.3"/><circle cx="216.41" cy="489.21" r="2.3"/><circle cx="218.05" cy="490.37" r="2.3"/><circle cx="219.68" cy="490.19" r="2.3"/><circle cx="221.31" cy="490.6" r="2.3"/><circle cx="222.95" cy="490.5" r="2.3"/><circle cx="224.58" cy="490.36" r="2.3"/><circle cx="226.22" cy="490.52" r="2.3"/><circle cx="227.85" cy="490.3" r="2.3"/><circle cx="229.48" cy="489.62" r="2.3"/><circle cx="231.12" cy="490.45" r="2.3"/><circle cx="232.75" cy="489.57" r="2.3"/><circle cx="234.38" cy="489.85" r="2.3"/><circle cx="236.02" cy="490.92" r="2.3"/><circle cx="237.65" cy="489.8" r="2.3"/><circle cx="239.29" cy="489.93" r="2.3"/><circle cx="240.92" cy="490" r="2.3"/><circle cx="242.55" cy="491.31" r="2.3"/><circle cx="244.19" cy="490.24" r="2.3"/><circle cx="245.82" cy="490.04" r="2.3"/><circle cx="247.46" cy="491.41" r="2.3"/><circle cx="249.09" cy="490.31" r="2.3"/><circle cx="250.72" cy="491.52" r="2.3"/><circle cx="252.36" cy="491.3" r="2.3"/><circle cx="253.99" cy="491.62" r="2.3"/><circle cx="255.62" cy="491.86" r="2.3"/><circle cx="257.26" cy="491.32" r="2.3"/><circle cx="258.89" cy="491.72" r="2.3"/><circle cx="260.53" cy="490.56" r="2.3"/><circle cx="262.16" cy="491.78" r="2.3"/><circle cx="263.79" cy="491.43" r="2.3"/><circle cx="265.43" cy="491.81" r="2.3"/><circle cx="267.06" cy="490.89" r="2.3"/><circle cx="268.7" cy="491.98" r="2.3"/><circle cx="270.33" cy="492.33" r="2.3"/><circle cx="271.96" cy="490.98" r="2.3"/><circle cx="273.6" cy="491.46" r="2.3"/><circle cx="275.23" cy="491.9" r="2.3"/><circle cx="276.86" cy="492.38" r="2.3"/><circle cx="278.5" cy="491.49" r="2.3"/><circle cx="280.13" cy="491.45" r="2.3"/><circle cx="281.77" cy="491.62" r="2.3"/><circle cx="283.4" cy="492.26" r="2.3"/><circle cx="285.03" cy="492.53" r="2.3"/><circle cx="286.67" cy="492.01" r="2.3"/><circle cx="288.3" cy="492.03" r="2.3"/><circle cx="289.94" cy="492.13" r="2.3"/><circle cx="291.57" cy="492.11" r="2.3"/><circle cx="293.2" cy="492.27" r="2.3"/><circle cx="294.84" cy="491.79" r="2.3"/><circle cx="296.47" cy="492.51" r="2.3"/><circle cx="298.1" cy="493.32" r="2.3"/><circle cx="299.74" cy="492.48" r="2.3"/><circle cx="301.37" cy="493.07" r="2.3"/><circle cx="303.01" cy="492.19" r="2.3"/><circle cx="304.64" cy="493.09" r="2.3"/><circle cx="306.27" cy="493.24" r="2.3"/><circle cx="307.91" cy="493.15" r="2.3"/><circle cx="309.54" cy="492.94" r="2.3"/><circle cx="311.17" cy="492.93" r="2.3"/><circle cx="312.81" cy="493.22" r="2.3"/><circle cx="314.44" cy="493.67" r="2.3"/><circle cx="316.08" cy="492.51" r="2.3"/><circle cx="317.71" cy="492.47" r="2.3"/><circle cx="319.34" cy="493.55" r="2.3"/><circle cx="320.98" cy="493.86" r="2.3"/><circle cx="322.61" cy="493.26" r="2.3"/><circle cx="324.25" cy="493.18" r="2.3"/><circle cx="325.88" cy="493.67" r="2.3"/><circle cx="327.51" cy="492.85" r="2.3"/><circle cx="329.15" cy="493.02" r="2.3"/><circle cx="330.78" cy="492.96" r="2.3"/><circle cx="332.41" cy="493.61" r="2.3"/><circle cx="334.05" cy="493.22" r="2.3"/><circle cx="335.68" cy="493.13" r="2.3"/><circle cx="337.32" cy="493.9" r="2.3"/><circle cx="338.95" cy="494.36" r="2.3"/><circle cx="340.58" cy="493.35" r="2.3"/><circle cx="342.22" cy="494.05" r="2.3"/><circle cx="343.85" cy="493.62" r="2.3"/><circle cx="345.49" cy="494.37" r="2.3"/><circle cx="347.12" cy="493.98" r="2.3"/><circle cx="348.75" cy="493.51" r="2.3"/><circle cx="350.39" cy="493.47" r="2.3"/><circle cx="352.02" cy="493.2" r="2.3"/><circle cx="353.65" cy="493.97" r="2.3"/><circle cx="355.29" cy="493.85" r="2.3"/><circle cx="356.92" cy="493.56" r="2.3"/><circle cx="358.56" cy="493.9" r="2.3"/><circle cx="360.19" cy="493.88" r="2.3"/><circle cx="361.82" cy="494.64" r="2.3"/><circle cx="363.46" cy="493.67" r="2.3"/><circle cx="365.09" cy="495.07" r="2.3"/><circle cx="366.73" cy="494.29" r="2.3"/><circle cx="368.36" cy="494.52" r="2.3"/><circle cx="369.99" cy="494.35" r="2.3"/><circle cx="371.63" cy="494.98" r="2.3"/><circle cx="373.26" cy="495" r="2.3"/><circle cx="374.89" cy="494.62" r="2.3"/><circle cx="376.53" cy="494.54" r="2.3"/><circle cx="378.16" cy="494.96" r="2.3"/><circle cx="379.8" cy="495.22" r="2.3"/><circle cx="381.43" cy="494.53" r="2.3"/><circle cx="383.06" cy="495.1" r="2.3"/><circle cx="384.7" cy="495.51" r="2.3"/><circle cx="386.33" cy="494.76" r="2.3"/><circle cx="387.97" cy="494.42" r="2.3"/><circle cx="389.6" cy="494.47" r="2.3"/><circle cx="391.23" cy="495.32" r="2.3"/><circle cx="392.87" cy="495.35" r="2.3"/><circle cx="394.5" cy="495.9" r="2.3"/><circle cx="396.13" cy="495.83" r="2.3"/><circle cx="397.77" cy="494.95" r="2.3"/><circle cx="399.4" cy="494.96" r="2.3"/><circle cx="401.04" cy="495.17" r="2.3"/><circle cx="402.67" cy="495.16" r="2.3"/><circle cx="404.3" cy="496.08" r="2.3"/><circle cx="405.94" cy="496.42" r="2.3"/><circle cx="407.57" cy="496.59" r="2.3"/><circle cx="409.21" cy="495.65" r="2.3"/><circle cx="410.84" cy="496.73" r="2.3"/><circle cx="412.47" cy="495.94" r="2.3"/><circle cx="414.11" cy="496.22" r="2.3"/><circle cx="415.74" cy="496.8" r="2.3"/><circle cx="417.37" cy="495.87" r="2.3"/><circle cx="419.01" cy="495.98" r="2.3"/><circle cx="420.64" cy="497.26" r="2.3"/><circle cx="422.28" cy="496.49" r="2.3"/><circle cx="423.91" cy="496.69" r="2.3"/><circle cx="425.54" cy="497.15" r="2.3"/><circle cx="427.18" cy="497.4" r="2.3"/><circle cx="428.81" cy="496.43" r="2.3"/><circle cx="430.44" cy="497.05" r="2.3"/><circle cx="432.08" cy="497.31" r="2.3"/><circle cx="433.71" cy="497.48" r="2.3"/><circle cx="435.35" cy="497.14" r="2.3"/><circle cx="436.98" cy="497.84" r="2.3"/><circle cx="438.61" cy="498.53" r="2.3"/><circle cx="440.25" cy="497.72" r="2.3"/><circle cx="441.88" cy="498.07" r="2.3"/><circle cx="443.52" cy="497.48" r="2.3"/><circle cx="445.15" cy="497.83" r="2.3"/><circle cx="446.78" cy="498.55" r="2.3"/><circle cx="448.42" cy="497.68" r="2.3"/><circle cx="450.05" cy="498.92" r="2.3"/><circle cx="451.68" cy="498.95" r="2.3"/><circle cx="453.32" cy="497.66" r="2.3"/><circle cx="454.95" cy="499.01" r="2.3"/><circle cx="456.59" cy="498.1" r="2.3"/><circle cx="458.22" cy="498.74" r="2.3"/><circle cx="459.85" cy="498.71" r="2.3"/><circle cx="461.49" cy="497.97" r="2.3"/><circle cx="463.12" cy="498.58" r="2.3"/><circle cx="464.76" cy="498.55" r="2.3"/><circle cx="466.39" cy="498.79" r="2.3"/><circle cx="468.02" cy="497.92" r="2.3"/><circle cx="469.66" cy="498.71" r="2.3"/><circle cx="471.29" cy="499.04" r="2.3"/><circle cx="472.92" cy="498.58" r="2.3"/><circle cx="474.56" cy="498.36" r="2.3"/><circle cx="476.19" cy="497.68" r="2.3"/><circle cx="477.83" cy="498.29" r="2.3"/><circle cx="479.46" cy="498.06" r="2.3"/><circle cx="481.09" cy="498.65" r="2.3"/><circle cx="482.73" cy="498.59" r="2.3"/><circle cx="484.36" cy="498.41" r="2.3"/><circle cx="486" cy="497.79" r="2.3"/><circle cx="487.63" cy="498.53" r="2.3"/><circle cx="489.26" cy="498.59" r="2.3"/><circle cx="490.9" cy="498.37" r="2.3"/><circle cx="492.53" cy="500.01" r="2.3"/><circle cx="494.16" cy="500.13" r="2.3"/><circle cx="495.8" cy="499.79" r="2.3"/><circle cx="497.43" cy="501.58" r="2.3"/><circle cx="499.07" cy="500.82" r="2.3"/><circle cx="500.7" cy="501.62" r="2.3"/><circle cx="502.33" cy="502.75" r="2.3"/><circle cx="503.97" cy="502.94" r="2.3"/><circle cx="505.6" cy="503.19" r="2.3"/><circle cx="507.24" cy="503.65" r="2.3"/><circle cx="508.87" cy="503.67" r="2.3"/><circle cx="510.5" cy="503.75" r="2.3"/><circle cx="512.14" cy="503.85" r="2.3"/><circle cx="513.77" cy="503.99" r="2.3"/><circle cx="515.4" cy="505.34" r="2.3"/><circle cx="517.04" cy="505.72" r="2.3"/><circle cx="518.67" cy="505.5" r="2.3"/><circle cx="520.31" cy="505.85" r="2.3"/><circle cx="521.94" cy="505.28" r="2.3"/><circle cx="523.57" cy="505.17" r="2.3"/><circle cx="525.21" cy="505.4" r="2.3"/><circle cx="526.84" cy="506.22" r="2.3"/><circle cx="528.47" cy="504.94" r="2.3"/><circle cx="530.11" cy="505.72" r="2.3"/><circle cx="531.74" cy="505.34" r="2.3"/><circle cx="533.38" cy="506.22" r="2.3"/><circle cx="535.01" cy="505.59" r="2.3"/><circle cx="536.64" cy="505.6" r="2.3"/><circle cx="538.28" cy="505.75" r="2.3"/><circle cx="539.91" cy="506.01" r="2.3"/><circle cx="541.55" cy="506.42" r="2.3"/><circle cx="543.18" cy="505.79" r="2.3"/><circle cx="544.81" cy="506.62" r="2.3"/><circle cx="546.45" cy="505.49" r="2.3"/><circle cx="548.08" cy="505.78" r="2.3"/><circle cx="549.71" cy="505.55" r="2.3"/><circle cx="551.35" cy="505.61" r="2.3"/><circle cx="552.98" cy="506.71" r="2.3"/><circle cx="554.62" cy="506.66" r="2.3"/><circle cx="556.25" cy="505.8" r="2.3"/></g>
<g fill="#d8949c" stroke="#8e1c2a" stroke-width="1.0"><circle cx="66.1" cy="483.25" r="2.3"/><circle cx="67.73" cy="483.46" r="2.3"/><circle cx="69.37" cy="483.74" r="2.3"/><circle cx="71" cy="483.82" r="2.3"/><circle cx="72.64" cy="483.79" r="2.3"/><circle cx="74.27" cy="483.68" r="2.3"/><circle cx="75.9" cy="483.35" r="2.3"/><circle cx="77.54" cy="483.57" r="2.3"/><circle cx="79.17" cy="483.43" r="2.3"/><circle cx="80.8" cy="483.72" r="2.3"/><circle cx="82.44" cy="483.77" r="2.3"/><circle cx="84.07" cy="483.5" r="2.3"/><circle cx="85.71" cy="483.56" r="2.3"/><circle cx="87.34" cy="484" r="2.3"/><circle cx="88.97" cy="483.42" r="2.3"/><circle cx="90.61" cy="484.06" r="2.3"/><circle cx="92.24" cy="484.16" r="2.3"/><circle cx="93.88" cy="484.22" r="2.3"/><circle cx="95.51" cy="483.79" r="2.3"/><circle cx="97.14" cy="483.95" r="2.3"/><circle cx="98.78" cy="484" r="2.3"/><circle cx="100.41" cy="484.06" r="2.3"/><circle cx="102.04" cy="484.35" r="2.3"/><circle cx="103.68" cy="484.14" r="2.3"/><circle cx="105.31" cy="483.85" r="2.3"/><circle cx="106.95" cy="484.32" r="2.3"/><circle cx="108.58" cy="484.04" r="2.3"/><circle cx="110.21" cy="484.16" r="2.3"/><circle cx="111.85" cy="484.28" r="2.3"/><circle cx="113.48" cy="483.72" r="2.3"/><circle cx="115.11" cy="484.36" r="2.3"/><circle cx="116.75" cy="484.29" r="2.3"/><circle cx="118.38" cy="484.18" r="2.3"/><circle cx="120.02" cy="484.23" r="2.3"/><circle cx="121.65" cy="484.2" r="2.3"/><circle cx="123.28" cy="484" r="2.3"/><circle cx="124.92" cy="484.3" r="2.3"/><circle cx="126.55" cy="483.92" r="2.3"/><circle cx="128.19" cy="484.31" r="2.3"/><circle cx="129.82" cy="484.45" r="2.3"/><circle cx="131.45" cy="484.31" r="2.3"/><circle cx="133.09" cy="484.43" r="2.3"/><circle cx="134.72" cy="484.77" r="2.3"/><circle cx="136.35" cy="484.73" r="2.3"/><circle cx="137.99" cy="484.15" r="2.3"/><circle cx="139.62" cy="484.7" r="2.3"/><circle cx="141.26" cy="484.58" r="2.3"/><circle cx="142.89" cy="484.15" r="2.3"/><circle cx="144.52" cy="484.42" r="2.3"/><circle cx="146.16" cy="484.34" r="2.3"/><circle cx="147.79" cy="484.23" r="2.3"/><circle cx="149.43" cy="484.62" r="2.3"/><circle cx="151.06" cy="484.96" r="2.3"/><circle cx="152.69" cy="484.49" r="2.3"/><circle cx="154.33" cy="484.95" r="2.3"/><circle cx="155.96" cy="484.83" r="2.3"/><circle cx="157.59" cy="484.41" r="2.3"/><circle cx="159.23" cy="485.01" r="2.3"/><circle cx="160.86" cy="484.82" r="2.3"/><circle cx="162.5" cy="485.1" r="2.3"/><circle cx="164.13" cy="484.95" r="2.3"/><circle cx="165.76" cy="484.99" r="2.3"/><circle cx="167.4" cy="484.7" r="2.3"/><circle cx="169.03" cy="485.09" r="2.3"/><circle cx="170.67" cy="485.21" r="2.3"/><circle cx="172.3" cy="485.18" r="2.3"/><circle cx="173.93" cy="484.86" r="2.3"/><circle cx="175.57" cy="485.13" r="2.3"/><circle cx="177.2" cy="484.94" r="2.3"/><circle cx="178.83" cy="484.66" r="2.3"/><circle cx="180.47" cy="484.63" r="2.3"/><circle cx="182.1" cy="484.68" r="2.3"/><circle cx="183.74" cy="484.79" r="2.3"/><circle cx="185.37" cy="484.78" r="2.3"/><circle cx="187" cy="485.07" r="2.3"/><circle cx="188.64" cy="485.26" r="2.3"/><circle cx="190.27" cy="485.15" r="2.3"/><circle cx="191.91" cy="485.08" r="2.3"/><circle cx="193.54" cy="485.28" r="2.3"/><circle cx="195.17" cy="485.02" r="2.3"/><circle cx="196.81" cy="485.17" r="2.3"/><circle cx="198.44" cy="485.43" r="2.3"/><circle cx="200.07" cy="485.16" r="2.3"/><circle cx="201.71" cy="485.01" r="2.3"/><circle cx="203.34" cy="485.61" r="2.3"/><circle cx="204.98" cy="485.48" r="2.3"/><circle cx="206.61" cy="485.22" r="2.3"/><circle cx="208.24" cy="485.25" r="2.3"/><circle cx="209.88" cy="485.39" r="2.3"/><circle cx="211.51" cy="485.47" r="2.3"/><circle cx="213.14" cy="485.19" r="2.3"/><circle cx="214.78" cy="485.04" r="2.3"/><circle cx="216.41" cy="485.22" r="2.3"/><circle cx="218.05" cy="485.7" r="2.3"/><circle cx="219.68" cy="485.21" r="2.3"/><circle cx="221.31" cy="485.48" r="2.3"/><circle cx="222.95" cy="485.27" r="2.3"/><circle cx="224.58" cy="485.3" r="2.3"/><circle cx="226.22" cy="485.28" r="2.3"/><circle cx="227.85" cy="485.47" r="2.3"/><circle cx="229.48" cy="485.29" r="2.3"/><circle cx="231.12" cy="485.19" r="2.3"/><circle cx="232.75" cy="485.27" r="2.3"/><circle cx="234.38" cy="485.32" r="2.3"/><circle cx="236.02" cy="485.59" r="2.3"/><circle cx="237.65" cy="485.26" r="2.3"/><circle cx="239.29" cy="485.24" r="2.3"/><circle cx="240.92" cy="485.59" r="2.3"/><circle cx="242.55" cy="485.57" r="2.3"/><circle cx="244.19" cy="485.81" r="2.3"/><circle cx="245.82" cy="485.3" r="2.3"/><circle cx="247.46" cy="485.59" r="2.3"/><circle cx="249.09" cy="485.6" r="2.3"/><circle cx="250.72" cy="485.31" r="2.3"/><circle cx="252.36" cy="486.07" r="2.3"/><circle cx="253.99" cy="485.49" r="2.3"/><circle cx="255.62" cy="485.4" r="2.3"/><circle cx="257.26" cy="485.71" r="2.3"/><circle cx="258.89" cy="485.47" r="2.3"/><circle cx="260.53" cy="485.85" r="2.3"/><circle cx="262.16" cy="485.64" r="2.3"/><circle cx="263.79" cy="485.47" r="2.3"/><circle cx="265.43" cy="485.43" r="2.3"/><circle cx="267.06" cy="485.98" r="2.3"/><circle cx="268.7" cy="485.62" r="2.3"/><circle cx="270.33" cy="486.04" r="2.3"/><circle cx="271.96" cy="485.8" r="2.3"/><circle cx="273.6" cy="486.18" r="2.3"/><circle cx="275.23" cy="485.69" r="2.3"/><circle cx="276.86" cy="485.66" r="2.3"/><circle cx="278.5" cy="485.68" r="2.3"/><circle cx="280.13" cy="486.13" r="2.3"/><circle cx="281.77" cy="485.99" r="2.3"/><circle cx="283.4" cy="485.77" r="2.3"/><circle cx="285.03" cy="485.58" r="2.3"/><circle cx="286.67" cy="486.06" r="2.3"/><circle cx="288.3" cy="486.3" r="2.3"/><circle cx="289.94" cy="486.01" r="2.3"/><circle cx="291.57" cy="485.55" r="2.3"/><circle cx="293.2" cy="485.58" r="2.3"/><circle cx="294.84" cy="485.64" r="2.3"/><circle cx="296.47" cy="485.71" r="2.3"/><circle cx="298.1" cy="485.62" r="2.3"/><circle cx="299.74" cy="485.64" r="2.3"/><circle cx="301.37" cy="486.13" r="2.3"/><circle cx="303.01" cy="486.33" r="2.3"/><circle cx="304.64" cy="485.78" r="2.3"/><circle cx="306.27" cy="486.41" r="2.3"/><circle cx="307.91" cy="486.02" r="2.3"/><circle cx="309.54" cy="486.29" r="2.3"/><circle cx="311.17" cy="486.38" r="2.3"/><circle cx="312.81" cy="486.41" r="2.3"/><circle cx="314.44" cy="485.69" r="2.3"/><circle cx="316.08" cy="485.92" r="2.3"/><circle cx="317.71" cy="486.16" r="2.3"/><circle cx="319.34" cy="486.44" r="2.3"/><circle cx="320.98" cy="485.76" r="2.3"/><circle cx="322.61" cy="485.94" r="2.3"/><circle cx="324.25" cy="486.39" r="2.3"/><circle cx="325.88" cy="485.81" r="2.3"/><circle cx="327.51" cy="486.03" r="2.3"/><circle cx="329.15" cy="486" r="2.3"/><circle cx="330.78" cy="486.28" r="2.3"/><circle cx="332.41" cy="486.49" r="2.3"/><circle cx="334.05" cy="485.89" r="2.3"/><circle cx="335.68" cy="486.35" r="2.3"/><circle cx="337.32" cy="486.35" r="2.3"/><circle cx="338.95" cy="486.44" r="2.3"/><circle cx="340.58" cy="486.22" r="2.3"/><circle cx="342.22" cy="486.53" r="2.3"/><circle cx="343.85" cy="486.09" r="2.3"/><circle cx="345.49" cy="486.13" r="2.3"/><circle cx="347.12" cy="485.99" r="2.3"/><circle cx="348.75" cy="486.44" r="2.3"/><circle cx="350.39" cy="486.21" r="2.3"/><circle cx="352.02" cy="486.05" r="2.3"/><circle cx="353.65" cy="485.97" r="2.3"/><circle cx="355.29" cy="486.42" r="2.3"/><circle cx="356.92" cy="486.34" r="2.3"/><circle cx="358.56" cy="486.43" r="2.3"/><circle cx="360.19" cy="486.18" r="2.3"/><circle cx="361.82" cy="486.26" r="2.3"/><circle cx="363.46" cy="486.01" r="2.3"/><circle cx="365.09" cy="486.46" r="2.3"/><circle cx="366.73" cy="485.91" r="2.3"/><circle cx="368.36" cy="486.28" r="2.3"/><circle cx="369.99" cy="486.52" r="2.3"/><circle cx="371.63" cy="486.46" r="2.3"/><circle cx="373.26" cy="486" r="2.3"/><circle cx="374.89" cy="486.12" r="2.3"/><circle cx="376.53" cy="486.62" r="2.3"/><circle cx="378.16" cy="486.46" r="2.3"/><circle cx="379.8" cy="486.66" r="2.3"/><circle cx="381.43" cy="486.66" r="2.3"/><circle cx="383.06" cy="486.33" r="2.3"/><circle cx="384.7" cy="486.69" r="2.3"/><circle cx="386.33" cy="486.57" r="2.3"/><circle cx="387.97" cy="486.26" r="2.3"/><circle cx="389.6" cy="486.29" r="2.3"/><circle cx="391.23" cy="486.09" r="2.3"/><circle cx="392.87" cy="486.39" r="2.3"/><circle cx="394.5" cy="486.87" r="2.3"/><circle cx="396.13" cy="486.23" r="2.3"/><circle cx="397.77" cy="486.64" r="2.3"/><circle cx="399.4" cy="486.31" r="2.3"/><circle cx="401.04" cy="486.32" r="2.3"/><circle cx="402.67" cy="486.82" r="2.3"/><circle cx="404.3" cy="486.53" r="2.3"/><circle cx="405.94" cy="486.41" r="2.3"/><circle cx="407.57" cy="486.54" r="2.3"/><circle cx="409.21" cy="486.97" r="2.3"/><circle cx="410.84" cy="486.96" r="2.3"/><circle cx="412.47" cy="486.54" r="2.3"/><circle cx="414.11" cy="486.75" r="2.3"/><circle cx="415.74" cy="487.38" r="2.3"/><circle cx="417.37" cy="486.82" r="2.3"/><circle cx="419.01" cy="487.13" r="2.3"/><circle cx="420.64" cy="487.06" r="2.3"/><circle cx="422.28" cy="487.38" r="2.3"/><circle cx="423.91" cy="487.28" r="2.3"/><circle cx="425.54" cy="487.47" r="2.3"/><circle cx="427.18" cy="487.3" r="2.3"/><circle cx="428.81" cy="487.06" r="2.3"/><circle cx="430.44" cy="487.09" r="2.3"/><circle cx="432.08" cy="487.05" r="2.3"/><circle cx="433.71" cy="487.69" r="2.3"/><circle cx="435.35" cy="487.16" r="2.3"/><circle cx="436.98" cy="487.12" r="2.3"/><circle cx="438.61" cy="487.92" r="2.3"/><circle cx="440.25" cy="487.34" r="2.3"/><circle cx="441.88" cy="487.94" r="2.3"/><circle cx="443.52" cy="487.33" r="2.3"/><circle cx="445.15" cy="487.67" r="2.3"/><circle cx="446.78" cy="487.51" r="2.3"/><circle cx="448.42" cy="488.04" r="2.3"/><circle cx="450.05" cy="487.91" r="2.3"/><circle cx="451.68" cy="487.96" r="2.3"/><circle cx="453.32" cy="488.1" r="2.3"/><circle cx="454.95" cy="488.23" r="2.3"/><circle cx="456.59" cy="487.84" r="2.3"/><circle cx="458.22" cy="488.09" r="2.3"/><circle cx="459.85" cy="488" r="2.3"/><circle cx="461.49" cy="487.77" r="2.3"/><circle cx="463.12" cy="488.39" r="2.3"/><circle cx="464.76" cy="488.23" r="2.3"/><circle cx="466.39" cy="488.45" r="2.3"/><circle cx="468.02" cy="488" r="2.3"/><circle cx="469.66" cy="488.31" r="2.3"/><circle cx="471.29" cy="488.28" r="2.3"/><circle cx="472.92" cy="488.53" r="2.3"/><circle cx="474.56" cy="488.05" r="2.3"/><circle cx="476.19" cy="488.29" r="2.3"/><circle cx="477.83" cy="488.43" r="2.3"/><circle cx="479.46" cy="488.12" r="2.3"/><circle cx="481.09" cy="488.53" r="2.3"/><circle cx="482.73" cy="488.71" r="2.3"/><circle cx="484.36" cy="488.48" r="2.3"/><circle cx="486" cy="488.69" r="2.3"/><circle cx="487.63" cy="488.68" r="2.3"/><circle cx="489.26" cy="488.39" r="2.3"/><circle cx="490.9" cy="488.52" r="2.3"/><circle cx="492.53" cy="489.06" r="2.3"/><circle cx="494.16" cy="488.56" r="2.3"/><circle cx="495.8" cy="488.66" r="2.3"/><circle cx="497.43" cy="488.41" r="2.3"/><circle cx="499.07" cy="488.54" r="2.3"/><circle cx="500.7" cy="488.52" r="2.3"/><circle cx="502.33" cy="489.16" r="2.3"/><circle cx="503.97" cy="489.02" r="2.3"/><circle cx="505.6" cy="489.16" r="2.3"/><circle cx="507.24" cy="489.28" r="2.3"/><circle cx="508.87" cy="489" r="2.3"/><circle cx="510.5" cy="489.28" r="2.3"/><circle cx="512.14" cy="488.99" r="2.3"/><circle cx="513.77" cy="488.92" r="2.3"/><circle cx="515.4" cy="489.37" r="2.3"/><circle cx="517.04" cy="489.36" r="2.3"/><circle cx="518.67" cy="489.42" r="2.3"/><circle cx="520.31" cy="489.07" r="2.3"/><circle cx="521.94" cy="489.33" r="2.3"/><circle cx="523.57" cy="489.06" r="2.3"/><circle cx="525.21" cy="489.56" r="2.3"/><circle cx="526.84" cy="489.52" r="2.3"/><circle cx="528.47" cy="489.04" r="2.3"/><circle cx="530.11" cy="489.58" r="2.3"/><circle cx="531.74" cy="489.01" r="2.3"/><circle cx="533.38" cy="488.96" r="2.3"/><circle cx="535.01" cy="489.49" r="2.3"/><circle cx="536.64" cy="489.17" r="2.3"/><circle cx="538.28" cy="489.37" r="2.3"/><circle cx="539.91" cy="489.49" r="2.3"/><circle cx="541.55" cy="489.04" r="2.3"/><circle cx="543.18" cy="489.63" r="2.3"/><circle cx="544.81" cy="489.28" r="2.3"/><circle cx="546.45" cy="489.43" r="2.3"/><circle cx="548.08" cy="489.38" r="2.3"/><circle cx="549.71" cy="489.72" r="2.3"/><circle cx="551.35" cy="489.75" r="2.3"/><circle cx="552.98" cy="489.41" r="2.3"/><circle cx="554.62" cy="489.28" r="2.3"/><circle cx="556.25" cy="489.44" r="2.3"/></g>
<g fill="#e89a9a" stroke="#b82228" stroke-width="1.0"><circle cx="66.1" cy="529.87" r="2.3"/><circle cx="67.73" cy="528.93" r="2.3"/><circle cx="69.37" cy="528.39" r="2.3"/><circle cx="71" cy="528.56" r="2.3"/><circle cx="72.64" cy="528.17" r="2.3"/><circle cx="74.27" cy="528.12" r="2.3"/><circle cx="75.9" cy="527.8" r="2.3"/><circle cx="77.54" cy="528.14" r="2.3"/><circle cx="79.17" cy="528.12" r="2.3"/><circle cx="80.8" cy="528.4" r="2.3"/><circle cx="82.44" cy="529.04" r="2.3"/><circle cx="84.07" cy="529.68" r="2.3"/><circle cx="85.71" cy="530.17" r="2.3"/><circle cx="87.34" cy="530.51" r="2.3"/><circle cx="88.97" cy="530.65" r="2.3"/><circle cx="90.61" cy="531.47" r="2.3"/><circle cx="92.24" cy="531.23" r="2.3"/><circle cx="93.88" cy="531.74" r="2.3"/><circle cx="95.51" cy="532.49" r="2.3"/><circle cx="97.14" cy="532.74" r="2.3"/><circle cx="98.78" cy="532.55" r="2.3"/><circle cx="100.41" cy="532.85" r="2.3"/><circle cx="102.04" cy="533.82" r="2.3"/><circle cx="103.68" cy="533.43" r="2.3"/><circle cx="105.31" cy="533.96" r="2.3"/><circle cx="106.95" cy="534.77" r="2.3"/><circle cx="108.58" cy="535.18" r="2.3"/><circle cx="110.21" cy="535.12" r="2.3"/><circle cx="111.85" cy="534.65" r="2.3"/><circle cx="113.48" cy="534.45" r="2.3"/><circle cx="115.11" cy="534.66" r="2.3"/><circle cx="116.75" cy="534.52" r="2.3"/><circle cx="118.38" cy="535.8" r="2.3"/><circle cx="120.02" cy="536.38" r="2.3"/><circle cx="121.65" cy="537.19" r="2.3"/><circle cx="123.28" cy="536.32" r="2.3"/><circle cx="124.92" cy="536.54" r="2.3"/><circle cx="126.55" cy="536.44" r="2.3"/><circle cx="128.19" cy="536.93" r="2.3"/><circle cx="129.82" cy="536.9" r="2.3"/><circle cx="131.45" cy="536.69" r="2.3"/><circle cx="133.09" cy="537.25" r="2.3"/><circle cx="134.72" cy="536.87" r="2.3"/><circle cx="136.35" cy="537.16" r="2.3"/><circle cx="137.99" cy="537.16" r="2.3"/><circle cx="139.62" cy="537.79" r="2.3"/><circle cx="141.26" cy="537.67" r="2.3"/><circle cx="142.89" cy="537.84" r="2.3"/><circle cx="144.52" cy="537.95" r="2.3"/><circle cx="146.16" cy="538.66" r="2.3"/><circle cx="147.79" cy="539.19" r="2.3"/><circle cx="149.43" cy="539.56" r="2.3"/><circle cx="151.06" cy="539.59" r="2.3"/><circle cx="152.69" cy="539" r="2.3"/><circle cx="154.33" cy="537.95" r="2.3"/><circle cx="155.96" cy="537.79" r="2.3"/><circle cx="157.59" cy="538.68" r="2.3"/><circle cx="159.23" cy="538.98" r="2.3"/><circle cx="160.86" cy="538.96" r="2.3"/><circle cx="162.5" cy="539.55" r="2.3"/><circle cx="164.13" cy="539.53" r="2.3"/><circle cx="165.76" cy="539.53" r="2.3"/><circle cx="167.4" cy="539.62" r="2.3"/><circle cx="169.03" cy="539.58" r="2.3"/><circle cx="170.67" cy="540.32" r="2.3"/><circle cx="172.3" cy="540.68" r="2.3"/><circle cx="173.93" cy="540.8" r="2.3"/><circle cx="175.57" cy="540.48" r="2.3"/><circle cx="177.2" cy="540.79" r="2.3"/><circle cx="178.83" cy="541.16" r="2.3"/><circle cx="180.47" cy="541.16" r="2.3"/><circle cx="182.1" cy="541.06" r="2.3"/><circle cx="183.74" cy="540.98" r="2.3"/><circle cx="185.37" cy="541.2" r="2.3"/><circle cx="187" cy="540.97" r="2.3"/><circle cx="188.64" cy="541.09" r="2.3"/><circle cx="190.27" cy="541.72" r="2.3"/><circle cx="191.91" cy="542.28" r="2.3"/><circle cx="193.54" cy="542.08" r="2.3"/><circle cx="195.17" cy="542.18" r="2.3"/><circle cx="196.81" cy="542.37" r="2.3"/><circle cx="198.44" cy="542.72" r="2.3"/><circle cx="200.07" cy="543.28" r="2.3"/><circle cx="201.71" cy="542.44" r="2.3"/><circle cx="203.34" cy="542.46" r="2.3"/><circle cx="204.98" cy="541.16" r="2.3"/><circle cx="206.61" cy="541.73" r="2.3"/><circle cx="208.24" cy="542.37" r="2.3"/><circle cx="209.88" cy="542.68" r="2.3"/><circle cx="211.51" cy="543.14" r="2.3"/><circle cx="213.14" cy="543.1" r="2.3"/><circle cx="214.78" cy="543.19" r="2.3"/><circle cx="216.41" cy="542.86" r="2.3"/><circle cx="218.05" cy="542.27" r="2.3"/><circle cx="219.68" cy="542.8" r="2.3"/><circle cx="221.31" cy="542.76" r="2.3"/><circle cx="222.95" cy="542.68" r="2.3"/><circle cx="224.58" cy="542.46" r="2.3"/><circle cx="226.22" cy="542.88" r="2.3"/><circle cx="227.85" cy="543.07" r="2.3"/><circle cx="229.48" cy="542.25" r="2.3"/><circle cx="231.12" cy="542.8" r="2.3"/><circle cx="232.75" cy="542.49" r="2.3"/><circle cx="234.38" cy="542.62" r="2.3"/><circle cx="236.02" cy="542.99" r="2.3"/><circle cx="237.65" cy="543.04" r="2.3"/><circle cx="239.29" cy="542.71" r="2.3"/><circle cx="240.92" cy="542.26" r="2.3"/><circle cx="242.55" cy="542.97" r="2.3"/><circle cx="244.19" cy="542.22" r="2.3"/><circle cx="245.82" cy="542.41" r="2.3"/><circle cx="247.46" cy="542.85" r="2.3"/><circle cx="249.09" cy="542.32" r="2.3"/><circle cx="250.72" cy="542.34" r="2.3"/><circle cx="252.36" cy="543.19" r="2.3"/><circle cx="253.99" cy="543.34" r="2.3"/><circle cx="255.62" cy="542.88" r="2.3"/><circle cx="257.26" cy="543.12" r="2.3"/><circle cx="258.89" cy="543.17" r="2.3"/><circle cx="260.53" cy="543.18" r="2.3"/><circle cx="262.16" cy="543.47" r="2.3"/><circle cx="263.79" cy="544.36" r="2.3"/><circle cx="265.43" cy="543.62" r="2.3"/><circle cx="267.06" cy="543.94" r="2.3"/><circle cx="268.7" cy="544.07" r="2.3"/><circle cx="270.33" cy="544.11" r="2.3"/><circle cx="271.96" cy="544.72" r="2.3"/><circle cx="273.6" cy="545.1" r="2.3"/><circle cx="275.23" cy="545.25" r="2.3"/><circle cx="276.86" cy="544.39" r="2.3"/><circle cx="278.5" cy="543.92" r="2.3"/><circle cx="280.13" cy="542.52" r="2.3"/><circle cx="281.77" cy="542.91" r="2.3"/><circle cx="283.4" cy="543.72" r="2.3"/><circle cx="285.03" cy="542.95" r="2.3"/><circle cx="286.67" cy="543.27" r="2.3"/><circle cx="288.3" cy="543.61" r="2.3"/><circle cx="289.94" cy="543.51" r="2.3"/><circle cx="291.57" cy="543.91" r="2.3"/><circle cx="293.2" cy="543.54" r="2.3"/><circle cx="294.84" cy="543.85" r="2.3"/><circle cx="296.47" cy="544.69" r="2.3"/><circle cx="298.1" cy="544" r="2.3"/><circle cx="299.74" cy="544.89" r="2.3"/><circle cx="301.37" cy="544.06" r="2.3"/><circle cx="303.01" cy="544.74" r="2.3"/><circle cx="304.64" cy="544.28" r="2.3"/><circle cx="306.27" cy="544.11" r="2.3"/><circle cx="307.91" cy="543.46" r="2.3"/><circle cx="309.54" cy="543.24" r="2.3"/><circle cx="311.17" cy="543.8" r="2.3"/><circle cx="312.81" cy="543.08" r="2.3"/><circle cx="314.44" cy="542.95" r="2.3"/><circle cx="316.08" cy="543.44" r="2.3"/><circle cx="317.71" cy="543.44" r="2.3"/><circle cx="319.34" cy="543.16" r="2.3"/><circle cx="320.98" cy="544.62" r="2.3"/><circle cx="322.61" cy="544.74" r="2.3"/><circle cx="324.25" cy="545.13" r="2.3"/><circle cx="325.88" cy="544.93" r="2.3"/><circle cx="327.51" cy="544.89" r="2.3"/><circle cx="329.15" cy="545.16" r="2.3"/><circle cx="330.78" cy="544.12" r="2.3"/><circle cx="332.41" cy="543.65" r="2.3"/><circle cx="334.05" cy="543.8" r="2.3"/><circle cx="335.68" cy="543.95" r="2.3"/><circle cx="337.32" cy="544.34" r="2.3"/><circle cx="338.95" cy="545.07" r="2.3"/><circle cx="340.58" cy="544.4" r="2.3"/><circle cx="342.22" cy="544.69" r="2.3"/><circle cx="343.85" cy="545.6" r="2.3"/><circle cx="345.49" cy="545.82" r="2.3"/><circle cx="347.12" cy="545.97" r="2.3"/><circle cx="348.75" cy="545.41" r="2.3"/><circle cx="350.39" cy="545.68" r="2.3"/><circle cx="352.02" cy="546.45" r="2.3"/><circle cx="353.65" cy="546.15" r="2.3"/><circle cx="355.29" cy="546.53" r="2.3"/><circle cx="356.92" cy="546.3" r="2.3"/><circle cx="358.56" cy="546.16" r="2.3"/><circle cx="360.19" cy="546.64" r="2.3"/><circle cx="361.82" cy="547.2" r="2.3"/><circle cx="363.46" cy="547.39" r="2.3"/><circle cx="365.09" cy="547.34" r="2.3"/><circle cx="366.73" cy="547.39" r="2.3"/><circle cx="368.36" cy="547.61" r="2.3"/><circle cx="369.99" cy="547.64" r="2.3"/><circle cx="371.63" cy="547.86" r="2.3"/><circle cx="373.26" cy="548.29" r="2.3"/><circle cx="374.89" cy="547.79" r="2.3"/><circle cx="376.53" cy="548.32" r="2.3"/><circle cx="378.16" cy="548.79" r="2.3"/><circle cx="379.8" cy="548.83" r="2.3"/><circle cx="381.43" cy="548.29" r="2.3"/><circle cx="383.06" cy="549.21" r="2.3"/><circle cx="384.7" cy="549.22" r="2.3"/><circle cx="386.33" cy="548.67" r="2.3"/><circle cx="387.97" cy="548.9" r="2.3"/><circle cx="389.6" cy="548.97" r="2.3"/><circle cx="391.23" cy="548.87" r="2.3"/><circle cx="392.87" cy="549.83" r="2.3"/><circle cx="394.5" cy="549.28" r="2.3"/><circle cx="396.13" cy="549.77" r="2.3"/><circle cx="397.77" cy="549.04" r="2.3"/><circle cx="399.4" cy="548.97" r="2.3"/><circle cx="401.04" cy="549.85" r="2.3"/><circle cx="402.67" cy="549.81" r="2.3"/><circle cx="404.3" cy="550.03" r="2.3"/><circle cx="405.94" cy="549.75" r="2.3"/><circle cx="407.57" cy="549.62" r="2.3"/><circle cx="409.21" cy="549.89" r="2.3"/><circle cx="410.84" cy="549.24" r="2.3"/><circle cx="412.47" cy="549.71" r="2.3"/><circle cx="414.11" cy="549.64" r="2.3"/><circle cx="415.74" cy="549.38" r="2.3"/><circle cx="417.37" cy="549.86" r="2.3"/><circle cx="419.01" cy="549.61" r="2.3"/><circle cx="420.64" cy="549.82" r="2.3"/><circle cx="422.28" cy="549.71" r="2.3"/><circle cx="423.91" cy="549.68" r="2.3"/><circle cx="425.54" cy="549.74" r="2.3"/><circle cx="427.18" cy="550.01" r="2.3"/><circle cx="428.81" cy="550.41" r="2.3"/><circle cx="430.44" cy="550.39" r="2.3"/><circle cx="432.08" cy="550.34" r="2.3"/><circle cx="433.71" cy="550.34" r="2.3"/><circle cx="435.35" cy="549.82" r="2.3"/><circle cx="436.98" cy="550.53" r="2.3"/><circle cx="438.61" cy="549.85" r="2.3"/><circle cx="440.25" cy="549.73" r="2.3"/><circle cx="441.88" cy="550.13" r="2.3"/><circle cx="443.52" cy="550.38" r="2.3"/><circle cx="445.15" cy="550.02" r="2.3"/><circle cx="446.78" cy="550.32" r="2.3"/><circle cx="448.42" cy="549.53" r="2.3"/><circle cx="450.05" cy="549.78" r="2.3"/><circle cx="451.68" cy="548.83" r="2.3"/><circle cx="453.32" cy="548.42" r="2.3"/><circle cx="454.95" cy="548.04" r="2.3"/><circle cx="456.59" cy="548.1" r="2.3"/><circle cx="458.22" cy="547.93" r="2.3"/><circle cx="459.85" cy="547.19" r="2.3"/><circle cx="461.49" cy="547.08" r="2.3"/><circle cx="463.12" cy="547.57" r="2.3"/><circle cx="464.76" cy="547.34" r="2.3"/><circle cx="466.39" cy="548.02" r="2.3"/><circle cx="468.02" cy="548.76" r="2.3"/><circle cx="469.66" cy="549.01" r="2.3"/><circle cx="471.29" cy="548.45" r="2.3"/><circle cx="472.92" cy="549.37" r="2.3"/><circle cx="474.56" cy="549.02" r="2.3"/><circle cx="476.19" cy="549.74" r="2.3"/><circle cx="477.83" cy="549.24" r="2.3"/><circle cx="479.46" cy="549.21" r="2.3"/><circle cx="481.09" cy="549.67" r="2.3"/><circle cx="482.73" cy="550.12" r="2.3"/><circle cx="484.36" cy="549.79" r="2.3"/><circle cx="486" cy="550.35" r="2.3"/><circle cx="487.63" cy="550.31" r="2.3"/><circle cx="489.26" cy="550.02" r="2.3"/><circle cx="490.9" cy="549.72" r="2.3"/><circle cx="492.53" cy="549.69" r="2.3"/><circle cx="494.16" cy="549.35" r="2.3"/><circle cx="495.8" cy="549.08" r="2.3"/><circle cx="497.43" cy="549.13" r="2.3"/><circle cx="499.07" cy="549.11" r="2.3"/><circle cx="500.7" cy="548.58" r="2.3"/><circle cx="502.33" cy="547.91" r="2.3"/><circle cx="503.97" cy="547.75" r="2.3"/><circle cx="505.6" cy="547.67" r="2.3"/><circle cx="507.24" cy="547.67" r="2.3"/><circle cx="508.87" cy="546.96" r="2.3"/><circle cx="510.5" cy="546.67" r="2.3"/><circle cx="512.14" cy="546.67" r="2.3"/><circle cx="513.77" cy="546.4" r="2.3"/><circle cx="515.4" cy="546.01" r="2.3"/><circle cx="517.04" cy="546.49" r="2.3"/><circle cx="518.67" cy="546.84" r="2.3"/><circle cx="520.31" cy="546.42" r="2.3"/><circle cx="521.94" cy="546.59" r="2.3"/><circle cx="523.57" cy="546.65" r="2.3"/><circle cx="525.21" cy="546.63" r="2.3"/><circle cx="526.84" cy="546.67" r="2.3"/><circle cx="528.47" cy="546.17" r="2.3"/><circle cx="530.11" cy="546.38" r="2.3"/><circle cx="531.74" cy="545.85" r="2.3"/><circle cx="533.38" cy="546.64" r="2.3"/><circle cx="535.01" cy="546.17" r="2.3"/><circle cx="536.64" cy="546.3" r="2.3"/><circle cx="538.28" cy="546.75" r="2.3"/><circle cx="539.91" cy="546.17" r="2.3"/><circle cx="541.55" cy="546.11" r="2.3"/><circle cx="543.18" cy="546.77" r="2.3"/><circle cx="544.81" cy="546.58" r="2.3"/><circle cx="546.45" cy="546.55" r="2.3"/><circle cx="548.08" cy="547.66" r="2.3"/><circle cx="549.71" cy="549.15" r="2.3"/><circle cx="551.35" cy="549.67" r="2.3"/><circle cx="552.98" cy="551.29" r="2.3"/><circle cx="554.62" cy="551.28" r="2.3"/><circle cx="556.25" cy="551.37" r="2.3"/></g>
<g fill="#8a98e0" stroke="#2c3aa8" stroke-width="1.0"><circle cx="66.1" cy="572.65" r="2.3"/><circle cx="67.73" cy="572.95" r="2.3"/><circle cx="69.37" cy="573.12" r="2.3"/><circle cx="71" cy="573.46" r="2.3"/><circle cx="72.64" cy="573.71" r="2.3"/><circle cx="74.27" cy="573.8" r="2.3"/><circle cx="75.9" cy="573.82" r="2.3"/><circle cx="77.54" cy="574.57" r="2.3"/><circle cx="79.17" cy="574.63" r="2.3"/><circle cx="80.8" cy="574.49" r="2.3"/><circle cx="82.44" cy="574.93" r="2.3"/><circle cx="84.07" cy="575.34" r="2.3"/><circle cx="85.71" cy="575.7" r="2.3"/><circle cx="87.34" cy="575.37" r="2.3"/><circle cx="88.97" cy="575.56" r="2.3"/><circle cx="90.61" cy="576.07" r="2.3"/><circle cx="92.24" cy="576.27" r="2.3"/><circle cx="93.88" cy="576.79" r="2.3"/><circle cx="95.51" cy="576.98" r="2.3"/><circle cx="97.14" cy="576.91" r="2.3"/><circle cx="98.78" cy="577.19" r="2.3"/><circle cx="100.41" cy="577.52" r="2.3"/><circle cx="102.04" cy="577.94" r="2.3"/><circle cx="103.68" cy="577.76" r="2.3"/><circle cx="105.31" cy="578.1" r="2.3"/><circle cx="106.95" cy="578.15" r="2.3"/><circle cx="108.58" cy="578.72" r="2.3"/><circle cx="110.21" cy="578.58" r="2.3"/><circle cx="111.85" cy="579.36" r="2.3"/><circle cx="113.48" cy="579.34" r="2.3"/><circle cx="115.11" cy="579.61" r="2.3"/><circle cx="116.75" cy="579.55" r="2.3"/><circle cx="118.38" cy="579.88" r="2.3"/><circle cx="120.02" cy="580.26" r="2.3"/><circle cx="121.65" cy="580.73" r="2.3"/><circle cx="123.28" cy="580.78" r="2.3"/><circle cx="124.92" cy="580.87" r="2.3"/><circle cx="126.55" cy="581.52" r="2.3"/><circle cx="128.19" cy="581.57" r="2.3"/><circle cx="129.82" cy="581.73" r="2.3"/><circle cx="131.45" cy="581.77" r="2.3"/><circle cx="133.09" cy="582.07" r="2.3"/><circle cx="134.72" cy="582.67" r="2.3"/><circle cx="136.35" cy="582.45" r="2.3"/><circle cx="137.99" cy="582.93" r="2.3"/><circle cx="139.62" cy="583.22" r="2.3"/><circle cx="141.26" cy="583.24" r="2.3"/><circle cx="142.89" cy="583.66" r="2.3"/><circle cx="144.52" cy="583.92" r="2.3"/><circle cx="146.16" cy="584.06" r="2.3"/><circle cx="147.79" cy="584.16" r="2.3"/><circle cx="149.43" cy="584.01" r="2.3"/><circle cx="151.06" cy="584.1" r="2.3"/><circle cx="152.69" cy="584.49" r="2.3"/><circle cx="154.33" cy="584.59" r="2.3"/><circle cx="155.96" cy="584.69" r="2.3"/><circle cx="157.59" cy="585.27" r="2.3"/><circle cx="159.23" cy="585.05" r="2.3"/><circle cx="160.86" cy="585.58" r="2.3"/><circle cx="162.5" cy="585.82" r="2.3"/><circle cx="164.13" cy="585.5" r="2.3"/><circle cx="165.76" cy="586.15" r="2.3"/><circle cx="167.4" cy="586.01" r="2.3"/><circle cx="169.03" cy="586.06" r="2.3"/><circle cx="170.67" cy="586.2" r="2.3"/><circle cx="172.3" cy="586.28" r="2.3"/><circle cx="173.93" cy="586.71" r="2.3"/><circle cx="175.57" cy="586.81" r="2.3"/><circle cx="177.2" cy="587.25" r="2.3"/><circle cx="178.83" cy="587.4" r="2.3"/><circle cx="180.47" cy="587.09" r="2.3"/><circle cx="182.1" cy="587.46" r="2.3"/><circle cx="183.74" cy="587.62" r="2.3"/><circle cx="185.37" cy="587.65" r="2.3"/><circle cx="187" cy="587.85" r="2.3"/><circle cx="188.64" cy="588.02" r="2.3"/><circle cx="190.27" cy="588.44" r="2.3"/><circle cx="191.91" cy="588.39" r="2.3"/><circle cx="193.54" cy="588.42" r="2.3"/><circle cx="195.17" cy="588.65" r="2.3"/><circle cx="196.81" cy="588.95" r="2.3"/><circle cx="198.44" cy="589.18" r="2.3"/><circle cx="200.07" cy="589.15" r="2.3"/><circle cx="201.71" cy="589.59" r="2.3"/><circle cx="203.34" cy="589.46" r="2.3"/><circle cx="204.98" cy="589.9" r="2.3"/><circle cx="206.61" cy="590.03" r="2.3"/><circle cx="208.24" cy="589.93" r="2.3"/><circle cx="209.88" cy="590.44" r="2.3"/><circle cx="211.51" cy="590.32" r="2.3"/><circle cx="213.14" cy="590.5" r="2.3"/><circle cx="214.78" cy="590.62" r="2.3"/><circle cx="216.41" cy="590.73" r="2.3"/><circle cx="218.05" cy="590.71" r="2.3"/><circle cx="219.68" cy="590.57" r="2.3"/><circle cx="221.31" cy="591.09" r="2.3"/><circle cx="222.95" cy="591.23" r="2.3"/><circle cx="224.58" cy="591.1" r="2.3"/><circle cx="226.22" cy="591.24" r="2.3"/><circle cx="227.85" cy="591.14" r="2.3"/><circle cx="229.48" cy="591.61" r="2.3"/><circle cx="231.12" cy="591.57" r="2.3"/><circle cx="232.75" cy="591.38" r="2.3"/><circle cx="234.38" cy="591.83" r="2.3"/><circle cx="236.02" cy="592.02" r="2.3"/><circle cx="237.65" cy="591.73" r="2.3"/><circle cx="239.29" cy="592.21" r="2.3"/><circle cx="240.92" cy="591.99" r="2.3"/><circle cx="242.55" cy="591.9" r="2.3"/><circle cx="244.19" cy="592.31" r="2.3"/><circle cx="245.82" cy="592.17" r="2.3"/><circle cx="247.46" cy="592.5" r="2.3"/><circle cx="249.09" cy="592.5" r="2.3"/><circle cx="250.72" cy="592.32" r="2.3"/><circle cx="252.36" cy="592.7" r="2.3"/><circle cx="253.99" cy="593.02" r="2.3"/><circle cx="255.62" cy="592.92" r="2.3"/><circle cx="257.26" cy="593.08" r="2.3"/><circle cx="258.89" cy="593.4" r="2.3"/><circle cx="260.53" cy="593.27" r="2.3"/><circle cx="262.16" cy="593.42" r="2.3"/><circle cx="263.79" cy="593.6" r="2.3"/><circle cx="265.43" cy="593.87" r="2.3"/><circle cx="267.06" cy="593.62" r="2.3"/><circle cx="268.7" cy="593.68" r="2.3"/><circle cx="270.33" cy="594.21" r="2.3"/><circle cx="271.96" cy="594.21" r="2.3"/><circle cx="273.6" cy="594.18" r="2.3"/><circle cx="275.23" cy="594.66" r="2.3"/><circle cx="276.86" cy="594.78" r="2.3"/><circle cx="278.5" cy="594.7" r="2.3"/><circle cx="280.13" cy="595.09" r="2.3"/><circle cx="281.77" cy="595.13" r="2.3"/><circle cx="283.4" cy="595.2" r="2.3"/><circle cx="285.03" cy="595.05" r="2.3"/><circle cx="286.67" cy="595.01" r="2.3"/><circle cx="288.3" cy="595.53" r="2.3"/><circle cx="289.94" cy="595.69" r="2.3"/><circle cx="291.57" cy="595.58" r="2.3"/><circle cx="293.2" cy="595.79" r="2.3"/><circle cx="294.84" cy="595.96" r="2.3"/><circle cx="296.47" cy="595.9" r="2.3"/><circle cx="298.1" cy="596.29" r="2.3"/><circle cx="299.74" cy="596.34" r="2.3"/><circle cx="301.37" cy="596.35" r="2.3"/><circle cx="303.01" cy="596.31" r="2.3"/><circle cx="304.64" cy="596.7" r="2.3"/><circle cx="306.27" cy="596.7" r="2.3"/><circle cx="307.91" cy="597.09" r="2.3"/><circle cx="309.54" cy="596.9" r="2.3"/><circle cx="311.17" cy="597.17" r="2.3"/><circle cx="312.81" cy="597.19" r="2.3"/><circle cx="314.44" cy="597.46" r="2.3"/><circle cx="316.08" cy="597.71" r="2.3"/><circle cx="317.71" cy="597.57" r="2.3"/><circle cx="319.34" cy="597.68" r="2.3"/><circle cx="320.98" cy="598.07" r="2.3"/><circle cx="322.61" cy="598.05" r="2.3"/><circle cx="324.25" cy="598.37" r="2.3"/><circle cx="325.88" cy="598.31" r="2.3"/><circle cx="327.51" cy="598.41" r="2.3"/><circle cx="329.15" cy="598.82" r="2.3"/><circle cx="330.78" cy="599.19" r="2.3"/><circle cx="332.41" cy="599.3" r="2.3"/><circle cx="334.05" cy="599.23" r="2.3"/><circle cx="335.68" cy="599.3" r="2.3"/><circle cx="337.32" cy="599.24" r="2.3"/><circle cx="338.95" cy="599.51" r="2.3"/><circle cx="340.58" cy="599.67" r="2.3"/><circle cx="342.22" cy="600.19" r="2.3"/><circle cx="343.85" cy="599.84" r="2.3"/><circle cx="345.49" cy="600.48" r="2.3"/><circle cx="347.12" cy="600.34" r="2.3"/><circle cx="348.75" cy="600.45" r="2.3"/><circle cx="350.39" cy="600.5" r="2.3"/><circle cx="352.02" cy="601.08" r="2.3"/><circle cx="353.65" cy="600.78" r="2.3"/><circle cx="355.29" cy="601.17" r="2.3"/><circle cx="356.92" cy="601.3" r="2.3"/><circle cx="358.56" cy="601.28" r="2.3"/><circle cx="360.19" cy="601.45" r="2.3"/><circle cx="361.82" cy="602.07" r="2.3"/><circle cx="363.46" cy="602.12" r="2.3"/><circle cx="365.09" cy="602.25" r="2.3"/><circle cx="366.73" cy="602.51" r="2.3"/><circle cx="368.36" cy="602.2" r="2.3"/><circle cx="369.99" cy="602.72" r="2.3"/><circle cx="371.63" cy="602.91" r="2.3"/><circle cx="373.26" cy="602.76" r="2.3"/><circle cx="374.89" cy="603.06" r="2.3"/><circle cx="376.53" cy="603.54" r="2.3"/><circle cx="378.16" cy="603.31" r="2.3"/><circle cx="379.8" cy="603.74" r="2.3"/><circle cx="381.43" cy="603.54" r="2.3"/><circle cx="383.06" cy="604.01" r="2.3"/><circle cx="384.7" cy="603.93" r="2.3"/><circle cx="386.33" cy="604.24" r="2.3"/><circle cx="387.97" cy="604.32" r="2.3"/><circle cx="389.6" cy="604.78" r="2.3"/><circle cx="391.23" cy="604.9" r="2.3"/><circle cx="392.87" cy="604.95" r="2.3"/><circle cx="394.5" cy="605.26" r="2.3"/><circle cx="396.13" cy="605.31" r="2.3"/><circle cx="397.77" cy="605.73" r="2.3"/><circle cx="399.4" cy="605.61" r="2.3"/><circle cx="401.04" cy="605.98" r="2.3"/><circle cx="402.67" cy="606.2" r="2.3"/><circle cx="404.3" cy="606.29" r="2.3"/><circle cx="405.94" cy="606.28" r="2.3"/><circle cx="407.57" cy="606.55" r="2.3"/><circle cx="409.21" cy="607.04" r="2.3"/><circle cx="410.84" cy="606.98" r="2.3"/><circle cx="412.47" cy="607.51" r="2.3"/><circle cx="414.11" cy="607.56" r="2.3"/><circle cx="415.74" cy="608.03" r="2.3"/><circle cx="417.37" cy="608.16" r="2.3"/><circle cx="419.01" cy="608.29" r="2.3"/><circle cx="420.64" cy="608.28" r="2.3"/><circle cx="422.28" cy="608.28" r="2.3"/><circle cx="423.91" cy="608.79" r="2.3"/><circle cx="425.54" cy="609.1" r="2.3"/><circle cx="427.18" cy="609.41" r="2.3"/><circle cx="428.81" cy="609.18" r="2.3"/><circle cx="430.44" cy="609.34" r="2.3"/><circle cx="432.08" cy="610.02" r="2.3"/><circle cx="433.71" cy="610.06" r="2.3"/><circle cx="435.35" cy="610.08" r="2.3"/><circle cx="436.98" cy="610.42" r="2.3"/><circle cx="438.61" cy="610.25" r="2.3"/><circle cx="440.25" cy="610.67" r="2.3"/><circle cx="441.88" cy="610.92" r="2.3"/><circle cx="443.52" cy="611.06" r="2.3"/><circle cx="445.15" cy="610.98" r="2.3"/><circle cx="446.78" cy="611.15" r="2.3"/><circle cx="448.42" cy="611.62" r="2.3"/><circle cx="450.05" cy="611.96" r="2.3"/><circle cx="451.68" cy="611.69" r="2.3"/><circle cx="453.32" cy="611.8" r="2.3"/><circle cx="454.95" cy="612.02" r="2.3"/><circle cx="456.59" cy="612.63" r="2.3"/><circle cx="458.22" cy="612.57" r="2.3"/><circle cx="459.85" cy="612.79" r="2.3"/><circle cx="461.49" cy="613.3" r="2.3"/><circle cx="463.12" cy="613.25" r="2.3"/><circle cx="464.76" cy="613.22" r="2.3"/><circle cx="466.39" cy="613.66" r="2.3"/><circle cx="468.02" cy="613.43" r="2.3"/><circle cx="469.66" cy="613.78" r="2.3"/><circle cx="471.29" cy="614.21" r="2.3"/><circle cx="472.92" cy="614.07" r="2.3"/><circle cx="474.56" cy="614.17" r="2.3"/><circle cx="476.19" cy="614.65" r="2.3"/><circle cx="477.83" cy="614.73" r="2.3"/><circle cx="479.46" cy="615.31" r="2.3"/><circle cx="481.09" cy="614.98" r="2.3"/><circle cx="482.73" cy="615.59" r="2.3"/><circle cx="484.36" cy="615.54" r="2.3"/><circle cx="486" cy="615.98" r="2.3"/><circle cx="487.63" cy="615.95" r="2.3"/><circle cx="489.26" cy="616.28" r="2.3"/><circle cx="490.9" cy="616.27" r="2.3"/><circle cx="492.53" cy="616.4" r="2.3"/><circle cx="494.16" cy="616.73" r="2.3"/><circle cx="495.8" cy="617.13" r="2.3"/><circle cx="497.43" cy="617.05" r="2.3"/><circle cx="499.07" cy="617.17" r="2.3"/><circle cx="500.7" cy="617.48" r="2.3"/><circle cx="502.33" cy="617.48" r="2.3"/><circle cx="503.97" cy="617.8" r="2.3"/><circle cx="505.6" cy="618.15" r="2.3"/><circle cx="507.24" cy="618.32" r="2.3"/><circle cx="508.87" cy="618.55" r="2.3"/><circle cx="510.5" cy="618.56" r="2.3"/><circle cx="512.14" cy="618.59" r="2.3"/><circle cx="513.77" cy="618.78" r="2.3"/><circle cx="515.4" cy="619.16" r="2.3"/><circle cx="517.04" cy="619.27" r="2.3"/><circle cx="518.67" cy="619.68" r="2.3"/><circle cx="520.31" cy="619.7" r="2.3"/><circle cx="521.94" cy="620.22" r="2.3"/><circle cx="523.57" cy="620.34" r="2.3"/><circle cx="525.21" cy="620.6" r="2.3"/><circle cx="526.84" cy="620.86" r="2.3"/><circle cx="528.47" cy="620.95" r="2.3"/><circle cx="530.11" cy="621.11" r="2.3"/><circle cx="531.74" cy="621.26" r="2.3"/><circle cx="533.38" cy="621.33" r="2.3"/><circle cx="535.01" cy="621.99" r="2.3"/><circle cx="536.64" cy="622.03" r="2.3"/><circle cx="538.28" cy="622.01" r="2.3"/><circle cx="539.91" cy="622.73" r="2.3"/><circle cx="541.55" cy="622.74" r="2.3"/><circle cx="543.18" cy="622.98" r="2.3"/><circle cx="544.81" cy="623.09" r="2.3"/><circle cx="546.45" cy="623.12" r="2.3"/><circle cx="548.08" cy="623.87" r="2.3"/><circle cx="549.71" cy="623.59" r="2.3"/><circle cx="551.35" cy="623.92" r="2.3"/><circle cx="552.98" cy="624.52" r="2.3"/><circle cx="554.62" cy="624.17" r="2.3"/><circle cx="556.25" cy="624.4" r="2.3"/></g>
<line x1="124.5" y1="587.8" x2="124.5" y2="600.1" stroke="#4e1c40" stroke-width="1.2"/>
<line x1="124.5" y1="600.1" x2="89" y2="600.1" stroke="#4e1c40" stroke-width="1.2"/>
<polygon points="84.3,600.1 90.5,597.8 90.5,602.4" fill="#4e1c40"/>
<line x1="512.4" y1="511.9" x2="512.4" y2="521.6" stroke="#4e1c40" stroke-width="1.2"/>
<line x1="512.4" y1="521.6" x2="542" y2="521.6" stroke="#4e1c40" stroke-width="1.2"/>
<polygon points="548,521.6 541.5,519.3 541.5,523.9" fill="#4e1c40"/>
<circle cx="236.6" cy="618.5" r="2.5" fill="#c03a48" stroke="#8a1a28" stroke-width="0.9"/>
<circle cx="250.5" cy="618.5" r="2.5" fill="#f6e8ea" stroke="#8a2a38" stroke-width="0.9"/><path d="M248,618.5 A2.5,2.5 0 0 1 253,618.5 Z" fill="#9a2a3a"/>
<circle cx="236.3" cy="635.5" r="2.5" fill="#4a56b0" stroke="#1e2a70" stroke-width="0.9"/>
<circle cx="250.2" cy="635.5" r="2.5" fill="#f0f0f8" stroke="#3a3a60" stroke-width="0.9"/><path d="M250.2,633 A2.5,2.5 0 0 1 250.2,638 Z" fill="#3a3a60"/>
<text x="263.5" y="622.7" font-size="11.2" text-anchor="start" fill="#7a1a28" font-weight="bold">N-G-S</text>
<text x="263.2" y="639.7" font-size="11.2" text-anchor="start" fill="#1e2852" font-weight="bold">A-G-S</text>
<ellipse cx="490" cy="664.5" rx="7" ry="8.5" fill="#fff" fill-opacity="0.92" stroke="#e2e2e2" stroke-width="1"/>
<path d="M486,672 L485,676 L490,673" fill="none" stroke="#e2e2e2" stroke-width="1"/>
<ellipse cx="503.4" cy="671.6" rx="9.2" ry="8.3" fill="#fff" fill-opacity="0.7" stroke="#b8b8b8" stroke-width="1.1"/>
<path d="M508,679 L511,681 L509.5,677.5" fill="none" stroke="#a8a8a8" stroke-width="1"/>
<g fill="#cfcfcf"><circle cx="489.4" cy="660.3" r="1.1"/><circle cx="497.9" cy="660" r="1.1"/><circle cx="500" cy="667.3" r="1"/><circle cx="507.4" cy="667.6" r="1"/></g>
<text x="520.5" y="675.5" font-size="20" fill="#b4b4b4" font-family="'Liberation Sans', 'Noto Sans CJK SC', sans-serif" font-weight="300" opacity="0.85">材料人</text>
</svg></body></html>
